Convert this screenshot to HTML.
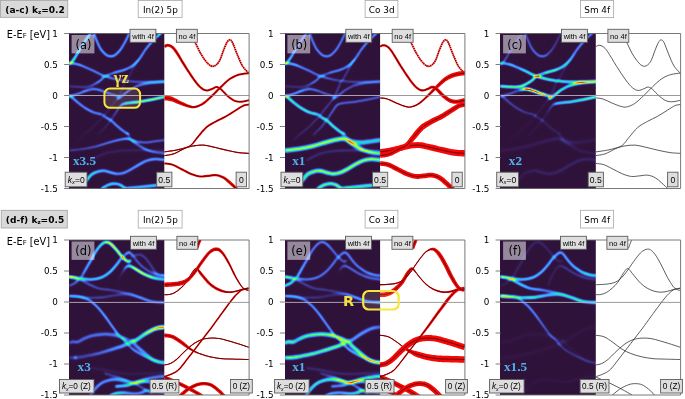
<!DOCTYPE html>
<html><head><meta charset="utf-8"><title>bands</title>
<style>
html,body{margin:0;padding:0;background:#fff;}
body{width:685px;height:399px;overflow:hidden;position:relative;}
svg{display:block;position:absolute;left:0;top:0;}
.dj{font-family:"DejaVu Sans","Liberation Sans",sans-serif;}
.djb{font-family:"DejaVu Sans","Liberation Sans",sans-serif;font-weight:bold;}
.ar{font-family:"Liberation Sans",sans-serif;}
stop{stop-color:#fff}
.sb{font-family:"Liberation Serif",serif;font-weight:bold;}
</style></head><body>
<svg width="685" height="399" viewBox="0 0 685 399">
<defs>
<clipPath id="cd00"><rect x="69.30" y="33.50" width="95.00" height="155.00"/></clipPath>
<clipPath id="cw00"><rect x="164.30" y="33.50" width="84.80" height="155.00"/></clipPath>
<clipPath id="cd01"><rect x="285.10" y="33.50" width="95.00" height="155.00"/></clipPath>
<clipPath id="cw01"><rect x="380.10" y="33.50" width="84.80" height="155.00"/></clipPath>
<clipPath id="cd02"><rect x="500.80" y="33.50" width="95.00" height="155.00"/></clipPath>
<clipPath id="cw02"><rect x="595.80" y="33.50" width="84.80" height="155.00"/></clipPath>
<clipPath id="cd10"><rect x="69.30" y="240.00" width="95.00" height="155.00"/></clipPath>
<clipPath id="cw10"><rect x="164.30" y="240.00" width="84.80" height="155.00"/></clipPath>
<clipPath id="cd11"><rect x="285.10" y="240.00" width="95.00" height="155.00"/></clipPath>
<clipPath id="cw11"><rect x="380.10" y="240.00" width="84.80" height="155.00"/></clipPath>
<clipPath id="cd12"><rect x="500.80" y="240.00" width="95.00" height="155.00"/></clipPath>
<clipPath id="cw12"><rect x="595.80" y="240.00" width="84.80" height="155.00"/></clipPath>
<filter id="b1" x="-20%" y="-20%" width="140%" height="140%"><feGaussianBlur stdDeviation="0.6"/></filter>
<filter id="b2" x="-20%" y="-20%" width="140%" height="140%"><feGaussianBlur stdDeviation="1.2"/></filter>
<filter id="b3" x="-20%" y="-20%" width="140%" height="140%"><feGaussianBlur stdDeviation="2.0"/></filter>
<filter id="turbo" filterUnits="userSpaceOnUse" x="0" y="0" width="95" height="155" color-interpolation-filters="sRGB"><feGaussianBlur in="SourceGraphic" stdDeviation="1.0"/><feComponentTransfer><feFuncR type="table" tableValues=".188 .189 .191 .195 .200 .207 .214 .220 .231 .240 .249 .257 .267 .273 .275 .278 .275 .266 .240 .207 .157 .121 .097 .099 .153 .238 .361 .490 .612 .707 .801 .884 .949 .988 .996 .972 .925 .856 .760 .630 .478 .478 .478 .478 .478 .478 .478 .478 .478 .478 .478 .478 .478 .478 .478 .478 .478 .478 .478 .478 .478 .478 .478 .478 .478"/><feFuncG type="table" tableValues=".071 .072 .076 .084 .094 .114 .135 .155 .184 .210 .248 .280 .329 .367 .408 .453 .502 .562 .613 .670 .737 .789 .841 .891 .933 .962 .986 .998 .996 .972 .926 .865 .788 .693 .582 .451 .325 .226 .141 .070 .016 .016 .016 .016 .016 .016 .016 .016 .016 .016 .016 .016 .016 .016 .016 .016 .016 .016 .016 .016 .016 .016 .016 .016 .016"/><feFuncB type="table" tableValues=".231 .235 .246 .264 .290 .337 .386 .432 .502 .549 .623 .686 .765 .820 .875 .923 .965 .996 .995 .974 .922 .863 .796 .724 .643 .554 .441 .336 .251 .210 .204 .216 .227 .211 .167 .109 .059 .027 .011 .004 .012 .012 .012 .012 .012 .012 .012 .012 .012 .012 .012 .012 .012 .012 .012 .012 .012 .012 .012 .012 .012 .012 .012 .012 .012"/><feFuncA type="linear" slope="0" intercept="1"/></feComponentTransfer></filter>
<path id="k2_M1" d="M-0.79,46.46C-0.68,46.35 -1.14,46.30 -0.10,45.77C0.94,45.24 3.60,44.54 5.45,43.27C7.30,42.00 9.15,40.50 11.00,38.14C12.84,35.78 14.69,32.25 16.54,29.13C18.39,26.01 20.24,22.65 22.09,19.42C23.94,16.18 25.79,12.37 27.64,9.71C29.49,7.05 31.57,4.74 33.19,3.47C34.81,2.20 35.96,2.01 37.35,2.08C38.73,2.15 39.89,2.61 41.51,3.88C43.13,5.15 45.21,7.63 47.06,9.71C48.91,11.79 50.99,14.56 52.60,16.37C54.22,18.17 55.61,19.63 56.77,20.53C57.92,21.43 58.73,21.84 59.54,21.78C60.35,21.71 61.27,20.39 61.62,20.11"/>
<path id="k2_M4" d="M-0.79,36.62C-0.68,36.64 -1.37,36.62 -0.10,36.75C1.17,36.89 4.52,37.10 6.83,37.45C9.15,37.79 11.46,38.49 13.77,38.83C16.08,39.18 18.39,39.53 20.70,39.53C23.02,39.53 25.33,39.37 27.64,38.83C29.95,38.30 32.26,37.61 34.57,36.34C36.89,35.07 39.43,33.10 41.51,31.21C43.59,29.31 45.44,26.93 47.06,24.97C48.67,23.00 49.83,21.08 51.22,19.42C52.60,17.75 53.99,16.18 55.38,14.98C56.77,13.78 58.38,12.39 59.54,12.21C60.70,12.02 61.16,12.67 62.31,13.87C63.47,15.07 64.86,17.45 66.47,19.42C68.09,21.38 70.17,23.93 72.02,25.66C73.87,27.39 75.72,28.59 77.57,29.82C79.42,31.04 81.27,32.20 83.12,33.01C84.97,33.82 86.47,34.21 88.67,34.67C90.86,35.14 95.02,35.60 96.29,35.78"/>
<path id="k2_M3" d="M47.06,45.77C47.52,44.61 48.79,41.15 49.83,38.83C50.87,36.52 52.14,33.87 53.30,31.90C54.45,29.94 55.73,28.09 56.77,27.05C57.81,26.01 58.61,25.73 59.54,25.66C60.46,25.59 61.16,26.05 62.31,26.63C63.47,27.21 64.86,28.13 66.47,29.13C68.09,30.12 70.17,31.55 72.02,32.59C73.87,33.63 75.72,34.56 77.57,35.37C79.42,36.18 81.27,36.87 83.12,37.45C84.97,38.03 86.47,38.44 88.67,38.83C90.86,39.23 95.02,39.64 96.29,39.81"/>
<path id="k2_M5" d="M-0.79,36.34C-0.68,36.41 -1.95,36.22 -0.10,36.75C1.75,37.29 6.94,38.26 10.30,39.53C13.65,40.80 16.77,42.88 20.00,44.38C23.24,45.89 26.25,47.61 29.71,48.54C33.18,49.48 36.65,49.33 40.81,49.99C44.97,50.64 51.21,51.84 54.68,52.48C58.15,53.13 59.30,53.18 61.61,53.87C63.92,54.56 66.47,55.83 68.55,56.64C70.63,57.45 71.78,57.91 74.10,58.72C76.41,59.53 78.72,60.87 82.42,61.50C86.12,62.12 93.98,62.31 96.29,62.47"/>
<path id="k2_F1" d="M-0.80,55.95C1.51,56.11 9.60,56.62 13.07,56.92C16.54,57.22 16.54,57.68 20.00,57.75C23.47,57.82 29.25,57.80 33.87,57.34C38.50,56.87 43.81,55.44 47.74,54.98C51.67,54.52 54.45,54.40 57.45,54.56C60.46,54.72 63.00,55.26 65.77,55.95C68.55,56.64 71.32,57.80 74.10,58.72C76.87,59.65 78.72,60.87 82.42,61.50C86.12,62.12 93.98,62.31 96.29,62.47"/>
<path id="k2_N1" d="M-0.80,55.95C0.82,56.04 6.02,56.03 8.91,56.50C11.80,56.98 14.58,58.06 16.54,58.79C18.51,59.52 18.86,59.60 20.70,60.87C22.55,62.14 25.33,64.11 27.64,66.42C29.95,68.73 32.26,71.73 34.57,74.74C36.89,77.74 39.43,81.56 41.51,84.45C43.59,87.34 45.44,90.00 47.06,92.08C48.67,94.16 49.83,95.54 51.22,96.93C52.60,98.32 53.99,98.96 55.38,100.40C56.77,101.83 57.92,103.88 59.54,105.55C61.16,107.22 63.01,108.90 65.09,110.40C67.17,111.90 69.94,113.41 72.02,114.56C74.10,115.72 75.26,116.30 77.57,117.34C79.88,118.38 82.77,119.76 85.89,120.80C89.01,121.84 94.56,123.12 96.29,123.58"/>
<path id="k2_N3" d="M-0.79,103.33C-0.10,103.05 1.86,101.88 3.37,101.66C4.87,101.45 6.49,102.50 8.22,102.06C9.96,101.62 11.69,99.98 13.77,99.01C15.85,98.04 18.39,96.93 20.70,96.24C23.02,95.54 25.10,95.20 27.64,94.85C30.18,94.50 33.19,94.16 35.96,94.16C38.73,94.16 41.74,94.43 44.28,94.85C46.83,95.27 48.91,95.89 51.22,96.65C53.53,97.42 56.30,98.64 58.15,99.43C60.00,100.21 60.93,100.35 62.31,101.37C63.70,102.39 64.86,104.04 66.47,105.55C68.09,107.05 70.40,109.02 72.02,110.40C73.64,111.79 74.33,112.37 76.18,113.87C78.03,115.37 80.81,118.08 83.12,119.42C85.43,120.76 87.86,121.41 90.05,121.91C92.25,122.42 95.25,122.38 96.29,122.47"/>
<path id="k2_O1" d="M-0.79,117.75C0.48,117.73 4.41,117.80 6.83,117.61C9.26,117.43 10.30,117.27 13.77,116.64C17.24,116.02 23.02,115.03 27.64,113.87C32.26,112.71 37.35,110.98 41.51,109.71C45.67,108.44 49.60,107.28 52.60,106.24C55.61,105.20 57.69,104.39 59.54,103.47C61.39,102.54 62.54,101.21 63.70,100.69C64.86,100.18 64.86,101.26 66.47,100.40C68.09,99.54 71.10,97.05 73.41,95.54C75.72,94.04 78.03,92.61 80.34,91.38C82.66,90.16 84.62,88.93 87.28,88.19C89.94,87.45 94.79,87.15 96.29,86.94"/>
<path id="k2_O3" d="M20.70,155.48C21.40,154.55 23.25,151.78 24.87,149.93C26.48,148.08 28.33,145.89 30.41,144.38C32.49,142.88 34.81,141.72 37.35,140.92C39.89,140.11 42.66,139.53 45.67,139.53C48.67,139.53 52.60,140.45 55.38,140.92C58.15,141.38 60.23,142.19 62.31,142.30C64.39,142.42 65.78,142.07 67.86,141.61C69.94,141.15 72.25,140.18 74.80,139.53C77.34,138.88 79.53,138.26 83.12,137.73C86.70,137.19 94.10,136.57 96.29,136.34"/>
<path id="k2_O5a" d="M34.57,133.29C36.42,133.80 42.20,135.30 45.67,136.34C49.14,137.38 52.60,138.53 55.38,139.53C58.15,140.52 60.00,141.26 62.31,142.30C64.62,143.34 66.71,144.45 69.25,145.77C71.79,147.09 75.26,148.94 77.57,150.21C79.88,151.48 82.19,152.87 83.12,153.40"/>
<path id="k2_O5b" d="M45.67,146.46C47.29,146.35 52.60,146.16 55.38,145.77C58.15,145.38 60.00,144.68 62.31,144.11C64.62,143.53 66.71,142.72 69.25,142.30C71.79,141.89 74.80,141.49 77.57,141.61C80.34,141.72 82.77,142.53 85.89,143.00C89.01,143.46 94.56,144.15 96.29,144.38"/>
<path id="k2_O5c" d="M40.12,156.17C41.28,155.71 44.51,153.98 47.06,153.40C49.60,152.82 52.37,152.64 55.38,152.70C58.38,152.77 62.31,153.81 65.09,153.81C67.86,153.81 69.94,153.21 72.02,152.70C74.10,152.20 75.72,150.95 77.57,150.76C79.42,150.58 80.00,151.27 83.12,151.60C86.24,151.92 94.10,152.52 96.29,152.70"/>
<path id="k2_O6" d="M20.70,127.74C23.02,128.09 29.95,129.01 34.57,129.82C39.20,130.63 43.82,131.90 48.44,132.59C53.07,133.29 56.53,133.87 62.31,133.98C68.09,134.10 77.45,133.52 83.12,133.29C88.78,133.06 94.10,132.71 96.29,132.59"/>
<path id="k2_M6" d="M60.93,16.64C62.31,16.30 66.94,14.56 69.25,14.56C71.56,14.56 72.95,15.14 74.80,16.64C76.65,18.15 78.49,21.04 80.34,23.58C82.19,26.12 84.27,29.94 85.89,31.90C87.51,33.87 89.36,34.79 90.05,35.37"/>
<path id="k1_1" d="M-0.79,30.71C-0.45,30.54 0.25,30.78 1.29,29.74C2.33,28.70 3.83,26.96 5.45,24.47C7.07,21.97 9.15,17.76 11.00,14.76C12.84,11.75 14.93,8.79 16.54,6.43C18.16,4.08 19.78,1.95 20.70,0.61C21.63,-0.73 21.86,-1.24 22.09,-1.61"/>
<path id="k1_2" d="M23.76,-2.16C23.94,-1.70 24.22,-1.05 24.87,0.61C25.51,2.27 26.48,5.23 27.64,7.82C28.80,10.41 30.18,13.83 31.80,16.14C33.42,18.46 35.73,20.58 37.35,21.69C38.97,22.80 40.12,22.80 41.51,22.80C42.90,22.80 44.05,22.80 45.67,21.69C47.29,20.58 49.60,18.22 51.22,16.14C52.84,14.06 54.22,11.29 55.38,9.21C56.53,7.13 57.23,5.56 58.15,3.66C59.08,1.77 60.46,-1.19 60.93,-2.16"/>
<path id="k1_3" d="M-0.79,29.74C0.71,29.90 5.33,30.01 8.22,30.71C11.11,31.40 13.77,32.74 16.54,33.90C19.32,35.05 22.09,36.32 24.87,37.64C27.64,38.96 30.41,40.65 33.19,41.80C35.96,42.96 37.81,43.65 41.51,44.58C45.21,45.50 50.76,46.73 55.38,47.35C60.00,47.97 64.62,48.21 69.25,48.32C73.87,48.44 78.61,48.21 83.12,48.04C87.63,47.88 94.10,47.47 96.29,47.35"/>
<path id="k1_4" d="M-0.79,52.74C0.48,52.81 4.41,53.04 6.83,53.16C9.26,53.27 11.46,53.50 13.77,53.43C16.08,53.37 18.39,53.43 20.70,52.74C23.02,52.05 25.79,50.31 27.64,49.27C29.49,48.23 30.41,47.63 31.80,46.50C33.19,45.37 33.65,43.74 35.96,42.50C38.27,41.25 42.43,40.07 45.67,39.03C48.91,37.99 52.60,37.29 55.38,36.25C58.15,35.21 60.00,34.41 62.31,32.79C64.62,31.17 66.94,29.32 69.25,26.55C71.56,23.77 73.87,19.26 76.18,16.14C78.49,13.02 81.04,10.13 83.12,7.82C85.20,5.51 87.09,3.85 88.67,2.27C90.24,0.70 91.90,-0.96 92.55,-1.61"/>
<path id="k1_5" d="M-0.79,62.59C-0.45,62.57 -0.22,62.80 1.29,62.45C2.79,62.10 5.68,61.34 8.22,60.51C10.76,59.68 14.00,58.27 16.54,57.46C19.09,56.65 21.63,55.93 23.48,55.65C25.33,55.38 25.79,55.40 27.64,55.79C29.49,56.19 32.26,57.23 34.57,58.01C36.89,58.80 39.43,59.81 41.51,60.51C43.59,61.20 45.55,61.62 47.06,62.17C48.56,62.73 49.95,63.56 50.52,63.84"/>
<path id="k1_6" d="M-0.79,62.31C-0.45,62.40 -0.22,61.80 1.29,62.87C2.79,63.93 5.68,66.68 8.22,68.69C10.76,70.70 13.77,73.20 16.54,74.93C19.32,76.67 22.09,78.05 24.87,79.09C27.64,80.13 31.34,80.41 33.19,81.17C35.04,81.94 34.57,82.75 35.96,83.67C37.35,84.60 39.43,85.17 41.51,86.72C43.59,88.27 46.13,91.00 48.44,92.96C50.76,94.93 53.53,97.19 55.38,98.51C57.23,99.83 58.85,100.48 59.54,100.87"/>
<path id="k1_6b" d="M55.38,98.51C56.07,98.90 58.61,99.66 59.54,100.87C60.46,102.07 60.00,104.35 60.93,105.74C61.85,107.13 63.24,107.94 65.09,109.21C66.94,110.48 69.71,112.10 72.02,113.37C74.33,114.64 76.65,115.91 78.96,116.84C81.27,117.76 83.00,118.34 85.89,118.92C88.78,119.50 94.56,120.07 96.29,120.30"/>
<path id="k1_7" d="M8.22,107.53C9.15,106.53 11.46,103.64 13.77,101.56C16.08,99.48 19.32,97.52 22.09,95.04C24.87,92.57 28.33,88.80 30.41,86.72C32.49,84.64 33.19,84.18 34.57,82.56C35.96,80.94 37.12,79.09 38.73,77.01C40.35,74.93 42.66,72.16 44.28,70.08C45.90,68.00 47.06,66.84 48.44,64.53C49.83,62.22 51.45,58.75 52.60,56.21C53.76,53.67 54.69,50.89 55.38,49.27C56.07,47.66 56.30,47.17 56.77,46.50C57.23,45.83 57.00,47.09 58.15,45.27C59.31,43.45 61.85,38.80 63.70,35.56C65.55,32.32 68.32,27.47 69.25,25.85"/>
<path id="k1_8" d="M96.29,48.58C94.10,48.70 87.63,48.70 83.12,49.27C78.61,49.85 72.95,50.89 69.25,52.05C65.55,53.20 63.24,54.82 60.93,56.21C58.61,57.60 57.00,59.10 55.38,60.37C53.76,61.64 52.49,62.91 51.22,63.84C49.95,64.76 48.33,65.57 47.75,65.92"/>
<path id="k1_9" d="M96.29,63.14C94.10,63.61 87.63,65.04 83.12,65.92C78.61,66.80 73.18,67.84 69.25,68.41C65.32,68.99 62.08,69.06 59.54,69.38C57.00,69.71 55.38,69.89 53.99,70.36C52.60,70.82 52.37,70.82 51.22,72.16C50.06,73.50 48.67,75.97 47.06,78.40C45.44,80.83 43.36,84.18 41.51,86.72C39.66,89.26 38.27,91.11 35.96,93.66C33.65,96.20 29.03,100.59 27.64,101.98"/>
<path id="k1_10" d="M-0.79,116.98C-0.45,116.95 -1.14,117.09 1.29,116.84C3.71,116.58 9.38,116.14 13.77,115.45C18.16,114.76 23.02,113.83 27.64,112.68C32.26,111.52 36.89,109.74 41.51,108.52C46.13,107.29 52.14,105.79 55.38,105.33C58.61,104.86 58.61,105.21 60.93,105.74C63.24,106.27 66.47,107.98 69.25,108.52C72.02,109.05 74.80,109.05 77.57,108.93C80.34,108.82 82.77,108.24 85.89,107.82C89.01,107.41 94.56,106.67 96.29,106.43"/>
<path id="k1_11" d="M20.70,127.24C23.02,126.08 29.95,121.92 34.57,120.30C39.20,118.69 42.66,118.11 48.44,117.53C54.22,116.95 61.27,116.84 69.25,116.84C77.22,116.84 91.79,117.41 96.29,117.53"/>
<path id="k1_12" d="M15.16,149.43C15.62,148.85 16.77,147.35 17.93,145.96C19.09,144.58 20.47,142.38 22.09,141.11C23.71,139.84 25.56,138.98 27.64,138.33C29.72,137.69 32.26,137.11 34.57,137.23C36.89,137.34 39.20,138.50 41.51,139.03C43.82,139.56 46.13,140.42 48.44,140.42C50.76,140.42 53.07,139.84 55.38,139.03C57.69,138.22 60.00,136.83 62.31,135.56C64.62,134.29 66.71,132.79 69.25,131.40C71.79,130.01 74.80,128.21 77.57,127.24C80.34,126.27 82.77,125.69 85.89,125.57C89.01,125.46 94.56,126.38 96.29,126.55"/>
<path id="k1_13" d="M31.80,155.67C32.96,154.98 36.42,152.44 38.73,151.51C41.05,150.59 43.59,150.12 45.67,150.12C47.75,150.12 49.48,150.70 51.22,151.51C52.95,152.32 55.26,154.40 56.07,154.98"/>
<path id="k1_14" d="M54.69,154.98C57.11,154.75 64.51,154.05 69.25,153.59C73.99,153.13 78.61,152.67 83.12,152.20C87.63,151.74 94.10,151.05 96.29,150.82"/>
<linearGradient id="g1" gradientUnits="userSpaceOnUse" x1="0" y1="0" x2="95" y2="0"><stop offset="0" stop-opacity=".975"/><stop offset="0" stop-opacity=".825"/><stop offset=".012" stop-opacity=".629"/><stop offset=".021" stop-opacity=".665"/><stop offset=".039" stop-opacity=".776"/><stop offset=".063" stop-opacity=".726"/><stop offset=".211" stop-opacity=".684"/></linearGradient>
<linearGradient id="g2" gradientUnits="userSpaceOnUse" x1="0" y1="0" x2="95" y2="0"><stop offset=".253" stop-opacity=".617"/><stop offset=".442" stop-opacity=".69"/><stop offset=".632" stop-opacity=".617"/></linearGradient>
<linearGradient id="g3" gradientUnits="userSpaceOnUse" x1="0" y1="0" x2="95" y2="0"><stop offset="0" stop-opacity=".862"/><stop offset="0" stop-opacity=".729"/><stop offset=".012" stop-opacity=".563"/><stop offset=".032" stop-opacity=".62"/><stop offset=".039" stop-opacity=".656"/><stop offset=".105" stop-opacity=".545"/><stop offset=".347" stop-opacity=".506"/><stop offset=".368" stop-opacity=".393"/><stop offset=".374" stop-opacity=".353"/><stop offset=".402" stop-opacity=".486"/><stop offset=".564" stop-opacity=".395"/><stop offset=".579" stop-opacity=".333"/><stop offset=".592" stop-opacity=".279"/><stop offset=".619" stop-opacity=".382"/><stop offset="1" stop-opacity=".345"/></linearGradient>
<linearGradient id="g4" gradientUnits="userSpaceOnUse" x1="0" y1="0" x2="95" y2="0"><stop offset="0" stop-opacity=".273"/><stop offset=".211" stop-opacity=".299"/><stop offset=".316" stop-opacity=".503"/><stop offset=".347" stop-opacity=".511"/><stop offset=".374" stop-opacity=".367"/><stop offset=".402" stop-opacity=".526"/><stop offset=".474" stop-opacity=".545"/><stop offset=".737" stop-opacity=".545"/><stop offset=".895" stop-opacity=".572"/><stop offset=".968" stop-opacity=".771"/></linearGradient>
<linearGradient id="g5" gradientUnits="userSpaceOnUse" x1="0" y1="0" x2="95" y2="0"><stop offset="0" stop-opacity=".575"/><stop offset="0" stop-opacity=".462"/><stop offset=".008" stop-opacity=".389"/><stop offset=".032" stop-opacity=".453"/><stop offset=".035" stop-opacity=".469"/><stop offset=".295" stop-opacity=".445"/><stop offset=".474" stop-opacity=".364"/><stop offset=".491" stop-opacity=".364"/><stop offset=".518" stop-opacity=".266"/><stop offset=".545" stop-opacity=".364"/><stop offset=".547" stop-opacity=".364"/></linearGradient>
<linearGradient id="g6" gradientUnits="userSpaceOnUse" x1="0" y1="0" x2="95" y2="0"><stop offset="0" stop-opacity=".53"/><stop offset="0" stop-opacity=".426"/><stop offset=".008" stop-opacity=".363"/><stop offset=".035" stop-opacity=".453"/><stop offset=".053" stop-opacity=".411"/><stop offset=".316" stop-opacity=".411"/><stop offset=".338" stop-opacity=".359"/><stop offset=".347" stop-opacity=".311"/><stop offset=".366" stop-opacity=".287"/><stop offset=".379" stop-opacity=".362"/><stop offset=".393" stop-opacity=".411"/><stop offset=".41" stop-opacity=".411"/><stop offset=".437" stop-opacity=".311"/><stop offset=".464" stop-opacity=".411"/><stop offset=".621" stop-opacity=".411"/></linearGradient>
<linearGradient id="g7" gradientUnits="userSpaceOnUse" x1="0" y1="0" x2="95" y2="0"><stop offset=".589" stop-opacity="0"/><stop offset=".614" stop-opacity=".279"/><stop offset=".641" stop-opacity=".293"/><stop offset=".642" stop-opacity=".299"/><stop offset=".669" stop-opacity=".449"/><stop offset=".695" stop-opacity=".484"/><stop offset="1" stop-opacity=".409"/></linearGradient>
<linearGradient id="g8" gradientUnits="userSpaceOnUse" x1="0" y1="0" x2="95" y2="0"><stop offset=".084" stop-opacity=".175"/><stop offset=".147" stop-opacity=".215"/><stop offset=".316" stop-opacity=".304"/><stop offset=".338" stop-opacity=".309"/><stop offset=".366" stop-opacity=".238"/><stop offset=".393" stop-opacity=".322"/><stop offset=".491" stop-opacity=".343"/><stop offset=".518" stop-opacity=".255"/><stop offset=".526" stop-opacity=".288"/><stop offset=".545" stop-opacity=".351"/><stop offset=".564" stop-opacity=".351"/><stop offset=".592" stop-opacity=".254"/><stop offset=".6" stop-opacity=".287"/><stop offset=".619" stop-opacity=".344"/><stop offset=".737" stop-opacity=".304"/></linearGradient>
<linearGradient id="g9" gradientUnits="userSpaceOnUse" x1="0" y1="0" x2="95" y2="0"><stop offset=".474" stop-opacity=".386"/><stop offset=".579" stop-opacity=".456"/><stop offset=".737" stop-opacity=".456"/><stop offset="1" stop-opacity=".472"/></linearGradient>
<linearGradient id="g10" gradientUnits="userSpaceOnUse" x1="0" y1="0" x2="95" y2="0"><stop offset=".295" stop-opacity=".122"/><stop offset=".41" stop-opacity=".187"/><stop offset=".421" stop-opacity=".175"/><stop offset=".437" stop-opacity=".176"/><stop offset=".464" stop-opacity=".288"/><stop offset=".526" stop-opacity=".386"/><stop offset=".589" stop-opacity=".752"/><stop offset=".684" stop-opacity=".862"/><stop offset=".842" stop-opacity=".904"/><stop offset="1" stop-opacity=".862"/></linearGradient>
<linearGradient id="g11" gradientUnits="userSpaceOnUse" x1="0" y1="0" x2="95" y2="0"><stop offset="0" stop-opacity=".258"/><stop offset=".211" stop-opacity=".346"/><stop offset=".474" stop-opacity=".462"/><stop offset=".614" stop-opacity=".555"/><stop offset=".632" stop-opacity=".47"/><stop offset=".641" stop-opacity=".395"/><stop offset=".669" stop-opacity=".492"/><stop offset=".695" stop-opacity=".432"/><stop offset="1" stop-opacity=".4"/></linearGradient>
<linearGradient id="g12" gradientUnits="userSpaceOnUse" x1="0" y1="0" x2="95" y2="0"><stop offset="0" stop-opacity=".106"/><stop offset="1" stop-opacity=".106"/></linearGradient>
<linearGradient id="g13" gradientUnits="userSpaceOnUse" x1="0" y1="0" x2="95" y2="0"><stop offset=".158" stop-opacity=".467"/><stop offset=".2" stop-opacity=".552"/><stop offset=".263" stop-opacity=".482"/><stop offset=".368" stop-opacity=".4"/><stop offset=".526" stop-opacity=".381"/><stop offset="1" stop-opacity=".381"/></linearGradient>
<linearGradient id="g14" gradientUnits="userSpaceOnUse" x1="0" y1="0" x2="95" y2="0"><stop offset="0" stop-opacity=".504"/><stop offset=".561" stop-opacity=".504"/><stop offset=".589" stop-opacity=".357"/><stop offset=".616" stop-opacity=".504"/><stop offset="1" stop-opacity=".504"/></linearGradient>
<linearGradient id="g15" gradientUnits="userSpaceOnUse" x1="0" y1="0" x2="95" y2="0"><stop offset="0" stop-opacity=".467"/><stop offset=".561" stop-opacity=".467"/><stop offset=".589" stop-opacity=".33"/><stop offset=".616" stop-opacity=".467"/><stop offset="1" stop-opacity=".467"/></linearGradient>
<linearGradient id="g16" gradientUnits="userSpaceOnUse" x1="0" y1="0" x2="95" y2="0"><stop offset="0" stop-opacity=".974"/><stop offset="0" stop-opacity=".824"/><stop offset=".012" stop-opacity=".627"/><stop offset=".021" stop-opacity=".663"/><stop offset=".039" stop-opacity=".743"/><stop offset=".063" stop-opacity=".644"/><stop offset=".126" stop-opacity=".557"/><stop offset=".232" stop-opacity=".509"/></linearGradient>
<linearGradient id="g17" gradientUnits="userSpaceOnUse" x1="0" y1="0" x2="95" y2="0"><stop offset=".253" stop-opacity=".535"/><stop offset=".421" stop-opacity=".617"/><stop offset=".632" stop-opacity=".535"/></linearGradient>
<linearGradient id="g18" gradientUnits="userSpaceOnUse" x1="0" y1="0" x2="95" y2="0"><stop offset="0" stop-opacity=".904"/><stop offset="0" stop-opacity=".765"/><stop offset=".012" stop-opacity=".595"/><stop offset=".032" stop-opacity=".67"/><stop offset=".039" stop-opacity=".71"/><stop offset=".105" stop-opacity=".597"/><stop offset=".316" stop-opacity=".456"/><stop offset=".347" stop-opacity=".442"/><stop offset=".374" stop-opacity=".304"/><stop offset=".402" stop-opacity=".417"/><stop offset=".564" stop-opacity=".331"/><stop offset=".579" stop-opacity=".276"/><stop offset=".592" stop-opacity=".228"/><stop offset=".619" stop-opacity=".32"/><stop offset="1" stop-opacity=".299"/></linearGradient>
<linearGradient id="g19" gradientUnits="userSpaceOnUse" x1="0" y1="0" x2="95" y2="0"><stop offset="0" stop-opacity=".244"/><stop offset=".211" stop-opacity=".244"/><stop offset=".295" stop-opacity=".422"/><stop offset=".347" stop-opacity=".442"/><stop offset=".374" stop-opacity=".32"/><stop offset=".402" stop-opacity=".463"/><stop offset=".474" stop-opacity=".488"/><stop offset=".737" stop-opacity=".517"/><stop offset="1" stop-opacity=".517"/></linearGradient>
<linearGradient id="g20" gradientUnits="userSpaceOnUse" x1="0" y1="0" x2="95" y2="0"><stop offset="0" stop-opacity=".704"/><stop offset="0" stop-opacity=".567"/><stop offset=".008" stop-opacity=".471"/><stop offset=".032" stop-opacity=".516"/><stop offset=".035" stop-opacity=".534"/><stop offset=".211" stop-opacity=".469"/><stop offset=".295" stop-opacity=".393"/><stop offset=".474" stop-opacity=".315"/><stop offset=".491" stop-opacity=".315"/><stop offset=".518" stop-opacity=".223"/><stop offset=".545" stop-opacity=".315"/><stop offset=".579" stop-opacity=".315"/></linearGradient>
<linearGradient id="g21" gradientUnits="userSpaceOnUse" x1="0" y1="0" x2="95" y2="0"><stop offset="0" stop-opacity=".685"/><stop offset="0" stop-opacity=".551"/><stop offset=".008" stop-opacity=".477"/><stop offset=".035" stop-opacity=".637"/><stop offset=".053" stop-opacity=".612"/><stop offset=".316" stop-opacity=".627"/><stop offset=".338" stop-opacity=".548"/><stop offset=".347" stop-opacity=".473"/><stop offset=".366" stop-opacity=".412"/><stop offset=".379" stop-opacity=".51"/><stop offset=".393" stop-opacity=".588"/><stop offset=".41" stop-opacity=".596"/><stop offset=".437" stop-opacity=".462"/><stop offset=".464" stop-opacity=".623"/><stop offset=".474" stop-opacity=".627"/><stop offset=".621" stop-opacity=".627"/></linearGradient>
<linearGradient id="g22" gradientUnits="userSpaceOnUse" x1="0" y1="0" x2="95" y2="0"><stop offset=".589" stop-opacity="0"/><stop offset=".614" stop-opacity=".091"/><stop offset=".632" stop-opacity=".101"/><stop offset=".641" stop-opacity=".175"/><stop offset=".663" stop-opacity=".361"/><stop offset=".669" stop-opacity=".395"/><stop offset=".695" stop-opacity=".464"/><stop offset=".8" stop-opacity=".489"/><stop offset=".808" stop-opacity=".502"/><stop offset=".832" stop-opacity=".456"/><stop offset=".836" stop-opacity=".434"/><stop offset=".863" stop-opacity=".482"/><stop offset=".874" stop-opacity=".464"/><stop offset="1" stop-opacity=".437"/></linearGradient>
<linearGradient id="g23" gradientUnits="userSpaceOnUse" x1="0" y1="0" x2="95" y2="0"><stop offset=".084" stop-opacity=".248"/><stop offset=".147" stop-opacity=".351"/><stop offset=".316" stop-opacity=".496"/><stop offset=".338" stop-opacity=".499"/><stop offset=".366" stop-opacity=".375"/><stop offset=".393" stop-opacity=".507"/><stop offset=".491" stop-opacity=".521"/><stop offset=".518" stop-opacity=".371"/><stop offset=".526" stop-opacity=".424"/><stop offset=".545" stop-opacity=".51"/><stop offset=".564" stop-opacity=".495"/><stop offset=".592" stop-opacity=".333"/><stop offset=".6" stop-opacity=".375"/><stop offset=".619" stop-opacity=".464"/><stop offset=".737" stop-opacity=".464"/></linearGradient>
<linearGradient id="g24" gradientUnits="userSpaceOnUse" x1="0" y1="0" x2="95" y2="0"><stop offset=".474" stop-opacity=".345"/><stop offset=".579" stop-opacity=".386"/><stop offset=".737" stop-opacity=".366"/><stop offset="1" stop-opacity=".323"/></linearGradient>
<linearGradient id="g25" gradientUnits="userSpaceOnUse" x1="0" y1="0" x2="95" y2="0"><stop offset=".295" stop-opacity=".211"/><stop offset=".41" stop-opacity=".314"/><stop offset=".421" stop-opacity=".292"/><stop offset=".437" stop-opacity=".257"/><stop offset=".464" stop-opacity=".367"/><stop offset=".526" stop-opacity=".422"/><stop offset=".632" stop-opacity=".422"/><stop offset="1" stop-opacity=".386"/></linearGradient>
<linearGradient id="g26" gradientUnits="userSpaceOnUse" x1="0" y1="0" x2="95" y2="0"><stop offset="0" stop-opacity=".461"/><stop offset=".316" stop-opacity=".461"/><stop offset=".579" stop-opacity=".461"/><stop offset=".614" stop-opacity=".476"/><stop offset=".632" stop-opacity=".41"/><stop offset=".641" stop-opacity=".346"/><stop offset=".669" stop-opacity=".389"/><stop offset=".674" stop-opacity=".375"/><stop offset="1" stop-opacity=".357"/></linearGradient>
<linearGradient id="g27" gradientUnits="userSpaceOnUse" x1="0" y1="0" x2="95" y2="0"><stop offset="0" stop-opacity=".13"/><stop offset=".808" stop-opacity=".146"/><stop offset=".836" stop-opacity=".12"/><stop offset=".863" stop-opacity=".147"/><stop offset="1" stop-opacity=".15"/></linearGradient>
<linearGradient id="g28" gradientUnits="userSpaceOnUse" x1="0" y1="0" x2="95" y2="0"><stop offset=".158" stop-opacity=".372"/><stop offset=".211" stop-opacity=".44"/><stop offset=".421" stop-opacity=".48"/><stop offset="1" stop-opacity=".48"/></linearGradient>
<linearGradient id="g29" gradientUnits="userSpaceOnUse" x1="0" y1="0" x2="95" y2="0"><stop offset="0" stop-opacity=".487"/><stop offset=".561" stop-opacity=".487"/><stop offset=".589" stop-opacity=".344"/><stop offset=".616" stop-opacity=".487"/><stop offset="1" stop-opacity=".487"/></linearGradient>
<linearGradient id="g30" gradientUnits="userSpaceOnUse" x1="0" y1="0" x2="95" y2="0"><stop offset="0" stop-opacity=".459"/><stop offset=".561" stop-opacity=".459"/><stop offset=".589" stop-opacity=".325"/><stop offset=".616" stop-opacity=".459"/><stop offset="1" stop-opacity=".459"/></linearGradient>
<linearGradient id="g31" gradientUnits="userSpaceOnUse" x1="0" y1="0" x2="95" y2="0"><stop offset="0" stop-opacity=".741"/><stop offset="0" stop-opacity=".628"/><stop offset=".012" stop-opacity=".472"/><stop offset=".032" stop-opacity=".477"/><stop offset=".039" stop-opacity=".503"/><stop offset=".105" stop-opacity=".392"/><stop offset=".232" stop-opacity=".297"/></linearGradient>
<linearGradient id="g32" gradientUnits="userSpaceOnUse" x1="0" y1="0" x2="95" y2="0"><stop offset=".253" stop-opacity=".39"/><stop offset=".316" stop-opacity=".478"/><stop offset=".442" stop-opacity=".552"/><stop offset=".526" stop-opacity=".39"/><stop offset=".632" stop-opacity=".276"/></linearGradient>
<linearGradient id="g33" gradientUnits="userSpaceOnUse" x1="0" y1="0" x2="95" y2="0"><stop offset="0" stop-opacity=".645"/><stop offset="0" stop-opacity=".546"/><stop offset=".012" stop-opacity=".458"/><stop offset=".039" stop-opacity=".645"/><stop offset=".189" stop-opacity=".645"/><stop offset=".232" stop-opacity=".79"/><stop offset=".347" stop-opacity=".818"/><stop offset=".347" stop-opacity=".816"/><stop offset=".374" stop-opacity=".599"/><stop offset=".389" stop-opacity=".759"/><stop offset=".402" stop-opacity=".849"/><stop offset=".432" stop-opacity=".818"/><stop offset=".564" stop-opacity=".79"/><stop offset=".592" stop-opacity=".64"/><stop offset=".619" stop-opacity=".778"/><stop offset=".653" stop-opacity=".771"/><stop offset=".842" stop-opacity=".771"/><stop offset=".926" stop-opacity=".645"/><stop offset="1" stop-opacity=".645"/></linearGradient>
<linearGradient id="g34" gradientUnits="userSpaceOnUse" x1="0" y1="0" x2="95" y2="0"><stop offset="0" stop-opacity=".862"/><stop offset=".211" stop-opacity=".862"/><stop offset=".295" stop-opacity=".79"/><stop offset=".347" stop-opacity=".836"/><stop offset=".358" stop-opacity=".757"/><stop offset=".374" stop-opacity=".604"/><stop offset=".389" stop-opacity=".759"/><stop offset=".402" stop-opacity=".852"/><stop offset=".442" stop-opacity=".818"/><stop offset=".589" stop-opacity=".79"/><stop offset=".695" stop-opacity=".668"/><stop offset=".789" stop-opacity=".545"/><stop offset=".968" stop-opacity=".472"/></linearGradient>
<linearGradient id="g35" gradientUnits="userSpaceOnUse" x1="0" y1="0" x2="95" y2="0"><stop offset="0" stop-opacity=".317"/><stop offset="0" stop-opacity=".255"/><stop offset=".008" stop-opacity=".225"/><stop offset=".035" stop-opacity=".317"/><stop offset=".189" stop-opacity=".317"/><stop offset=".221" stop-opacity=".777"/><stop offset=".253" stop-opacity=".977"/><stop offset=".358" stop-opacity=".951"/><stop offset=".442" stop-opacity=".839"/><stop offset=".495" stop-opacity=".709"/><stop offset=".537" stop-opacity=".593"/></linearGradient>
<linearGradient id="g36" gradientUnits="userSpaceOnUse" x1="0" y1="0" x2="95" y2="0"><stop offset="0" stop-opacity=".274"/><stop offset="0" stop-opacity=".22"/><stop offset=".008" stop-opacity=".193"/><stop offset=".035" stop-opacity=".268"/><stop offset=".211" stop-opacity=".237"/><stop offset=".347" stop-opacity=".217"/><stop offset=".379" stop-opacity=".153"/><stop offset=".632" stop-opacity=".137"/></linearGradient>
<linearGradient id="g37" gradientUnits="userSpaceOnUse" x1="0" y1="0" x2="95" y2="0"><stop offset=".589" stop-opacity="0"/><stop offset=".653" stop-opacity=".085"/><stop offset="1" stop-opacity=".085"/></linearGradient>
<linearGradient id="g38" gradientUnits="userSpaceOnUse" x1="0" y1="0" x2="95" y2="0"><stop offset=".084" stop-opacity=".124"/><stop offset=".316" stop-opacity=".192"/><stop offset=".526" stop-opacity=".304"/><stop offset=".564" stop-opacity=".304"/><stop offset=".592" stop-opacity=".248"/><stop offset=".6" stop-opacity=".266"/><stop offset=".619" stop-opacity=".296"/><stop offset=".737" stop-opacity=".248"/></linearGradient>
<linearGradient id="g39" gradientUnits="userSpaceOnUse" x1="0" y1="0" x2="95" y2="0"><stop offset=".505" stop-opacity=".668"/><stop offset=".579" stop-opacity=".79"/><stop offset=".737" stop-opacity=".771"/><stop offset=".842" stop-opacity=".771"/><stop offset=".926" stop-opacity=".645"/><stop offset="1" stop-opacity=".645"/></linearGradient>
<linearGradient id="g40" gradientUnits="userSpaceOnUse" x1="0" y1="0" x2="95" y2="0"><stop offset=".295" stop-opacity=".094"/><stop offset=".474" stop-opacity=".149"/><stop offset=".547" stop-opacity=".345"/><stop offset=".579" stop-opacity=".668"/><stop offset=".632" stop-opacity=".721"/><stop offset=".737" stop-opacity=".752"/><stop offset=".874" stop-opacity=".818"/><stop offset="1" stop-opacity=".862"/></linearGradient>
<linearGradient id="g41" gradientUnits="userSpaceOnUse" x1="0" y1="0" x2="95" y2="0"><stop offset="0" stop-opacity=".071"/><stop offset=".632" stop-opacity=".092"/><stop offset="1" stop-opacity=".071"/></linearGradient>
<linearGradient id="g42" gradientUnits="userSpaceOnUse" x1="0" y1="0" x2="95" y2="0"><stop offset=".158" stop-opacity=".068"/><stop offset=".421" stop-opacity=".107"/><stop offset="1" stop-opacity=".107"/></linearGradient>
<linearGradient id="g43" gradientUnits="userSpaceOnUse" x1="0" y1="0" x2="95" y2="0"><stop offset="0" stop-opacity=".306"/><stop offset=".077" stop-opacity=".342"/><stop offset=".087" stop-opacity=".313"/><stop offset=".105" stop-opacity=".207"/><stop offset=".115" stop-opacity=".211"/><stop offset=".126" stop-opacity=".291"/><stop offset=".132" stop-opacity=".336"/><stop offset=".142" stop-opacity=".386"/><stop offset=".232" stop-opacity=".503"/><stop offset=".337" stop-opacity=".627"/><stop offset=".4" stop-opacity=".737"/><stop offset=".484" stop-opacity=".762"/><stop offset=".533" stop-opacity=".751"/><stop offset=".537" stop-opacity=".73"/><stop offset=".561" stop-opacity=".698"/><stop offset=".568" stop-opacity=".799"/><stop offset=".588" stop-opacity=".805"/><stop offset=".595" stop-opacity=".75"/><stop offset=".653" stop-opacity=".627"/></linearGradient>
<linearGradient id="g44" gradientUnits="userSpaceOnUse" x1="0" y1="0" x2="95" y2="0"><stop offset="0" stop-opacity=".627"/><stop offset=".084" stop-opacity=".53"/><stop offset=".087" stop-opacity=".518"/><stop offset=".105" stop-opacity=".356"/><stop offset=".115" stop-opacity=".325"/><stop offset=".142" stop-opacity=".519"/><stop offset=".147" stop-opacity=".53"/><stop offset=".474" stop-opacity=".53"/><stop offset=".533" stop-opacity=".487"/><stop offset=".537" stop-opacity=".471"/><stop offset=".561" stop-opacity=".263"/><stop offset=".568" stop-opacity=".232"/><stop offset=".588" stop-opacity=".38"/><stop offset=".6" stop-opacity=".433"/><stop offset=".632" stop-opacity=".433"/><stop offset=".644" stop-opacity=".406"/><stop offset=".672" stop-opacity=".249"/><stop offset=".684" stop-opacity=".265"/><stop offset=".699" stop-opacity=".304"/><stop offset=".895" stop-opacity=".274"/><stop offset=".912" stop-opacity=".334"/><stop offset=".939" stop-opacity=".314"/><stop offset=".947" stop-opacity=".364"/><stop offset=".966" stop-opacity=".471"/><stop offset="1" stop-opacity=".53"/></linearGradient>
<linearGradient id="g45" gradientUnits="userSpaceOnUse" x1="0" y1="0" x2="95" y2="0"><stop offset=".495" stop-opacity="0"/><stop offset=".558" stop-opacity=".168"/><stop offset=".6" stop-opacity=".433"/><stop offset=".632" stop-opacity=".597"/><stop offset=".674" stop-opacity=".737"/><stop offset=".758" stop-opacity=".781"/><stop offset=".863" stop-opacity=".685"/><stop offset=".947" stop-opacity=".573"/><stop offset="1" stop-opacity=".53"/></linearGradient>
<linearGradient id="g46" gradientUnits="userSpaceOnUse" x1="0" y1="0" x2="95" y2="0"><stop offset="0" stop-opacity=".452"/><stop offset=".053" stop-opacity=".313"/><stop offset=".077" stop-opacity=".308"/><stop offset=".105" stop-opacity=".214"/><stop offset=".132" stop-opacity=".297"/><stop offset=".316" stop-opacity=".256"/><stop offset="1" stop-opacity=".202"/></linearGradient>
<linearGradient id="g47" gradientUnits="userSpaceOnUse" x1="0" y1="0" x2="95" y2="0"><stop offset="0" stop-opacity=".214"/><stop offset=".158" stop-opacity=".198"/><stop offset=".316" stop-opacity=".198"/><stop offset="1" stop-opacity=".181"/></linearGradient>
<linearGradient id="g48" gradientUnits="userSpaceOnUse" x1="0" y1="0" x2="95" y2="0"><stop offset="0" stop-opacity=".366"/><stop offset=".158" stop-opacity=".484"/><stop offset=".263" stop-opacity=".579"/><stop offset=".508" stop-opacity=".601"/><stop offset=".535" stop-opacity=".43"/><stop offset=".562" stop-opacity=".605"/><stop offset=".579" stop-opacity=".607"/><stop offset=".586" stop-opacity=".583"/><stop offset=".613" stop-opacity=".346"/><stop offset=".621" stop-opacity=".362"/><stop offset=".641" stop-opacity=".482"/><stop offset=".674" stop-opacity=".533"/><stop offset="1" stop-opacity=".366"/></linearGradient>
<linearGradient id="g49" gradientUnits="userSpaceOnUse" x1="0" y1="0" x2="95" y2="0"><stop offset="0" stop-opacity=".219"/><stop offset=".158" stop-opacity=".249"/><stop offset=".474" stop-opacity=".259"/><stop offset=".508" stop-opacity=".254"/><stop offset=".535" stop-opacity=".178"/><stop offset=".562" stop-opacity=".246"/><stop offset=".611" stop-opacity=".239"/><stop offset=".63" stop-opacity=".184"/><stop offset=".642" stop-opacity=".124"/><stop offset=".657" stop-opacity=".158"/><stop offset=".674" stop-opacity=".242"/><stop offset=".685" stop-opacity=".275"/><stop offset=".737" stop-opacity=".309"/><stop offset="1" stop-opacity=".309"/></linearGradient>
<linearGradient id="g50" gradientUnits="userSpaceOnUse" x1="0" y1="0" x2="95" y2="0"><stop offset=".042" stop-opacity=".155"/><stop offset=".063" stop-opacity=".379"/><stop offset=".084" stop-opacity=".169"/><stop offset=".211" stop-opacity=".195"/><stop offset=".368" stop-opacity=".259"/><stop offset=".526" stop-opacity=".309"/><stop offset=".586" stop-opacity=".344"/><stop offset=".589" stop-opacity=".335"/><stop offset=".613" stop-opacity=".266"/><stop offset=".621" stop-opacity=".306"/><stop offset=".63" stop-opacity=".353"/><stop offset=".641" stop-opacity=".37"/><stop offset=".657" stop-opacity=".321"/><stop offset=".663" stop-opacity=".353"/><stop offset=".685" stop-opacity=".444"/><stop offset=".695" stop-opacity=".448"/><stop offset=".758" stop-opacity=".426"/><stop offset=".842" stop-opacity=".512"/><stop offset=".926" stop-opacity=".586"/><stop offset="1" stop-opacity=".618"/></linearGradient>
<linearGradient id="g51" gradientUnits="userSpaceOnUse" x1="0" y1="0" x2="95" y2="0"><stop offset=".211" stop-opacity=".29"/><stop offset=".316" stop-opacity=".335"/><stop offset=".579" stop-opacity=".335"/><stop offset=".629" stop-opacity=".273"/><stop offset=".653" stop-opacity=".178"/><stop offset=".656" stop-opacity=".171"/><stop offset=".683" stop-opacity=".269"/><stop offset=".737" stop-opacity=".318"/><stop offset=".895" stop-opacity=".29"/></linearGradient>
<linearGradient id="g52" gradientUnits="userSpaceOnUse" x1="0" y1="0" x2="95" y2="0"><stop offset=".368" stop-opacity=".283"/><stop offset=".629" stop-opacity=".305"/><stop offset=".654" stop-opacity=".227"/><stop offset=".656" stop-opacity=".214"/><stop offset=".681" stop-opacity=".228"/><stop offset=".683" stop-opacity=".24"/><stop offset=".708" stop-opacity=".312"/><stop offset=".799" stop-opacity=".319"/><stop offset=".827" stop-opacity=".232"/><stop offset=".854" stop-opacity=".323"/><stop offset=".895" stop-opacity=".327"/></linearGradient>
<linearGradient id="g53" gradientUnits="userSpaceOnUse" x1="0" y1="0" x2="95" y2="0"><stop offset=".474" stop-opacity=".405"/><stop offset=".579" stop-opacity=".486"/><stop offset=".654" stop-opacity=".467"/><stop offset=".681" stop-opacity=".345"/><stop offset=".708" stop-opacity=".452"/><stop offset=".737" stop-opacity=".444"/><stop offset=".842" stop-opacity=".362"/><stop offset="1" stop-opacity=".344"/></linearGradient>
<linearGradient id="g54" gradientUnits="userSpaceOnUse" x1="0" y1="0" x2="95" y2="0"><stop offset=".421" stop-opacity=".473"/><stop offset=".526" stop-opacity=".443"/><stop offset=".632" stop-opacity=".318"/><stop offset=".799" stop-opacity=".318"/><stop offset=".827" stop-opacity=".229"/><stop offset=".854" stop-opacity=".318"/><stop offset="1" stop-opacity=".318"/></linearGradient>
<linearGradient id="g55" gradientUnits="userSpaceOnUse" x1="0" y1="0" x2="95" y2="0"><stop offset="0" stop-opacity=".092"/><stop offset="1" stop-opacity=".092"/></linearGradient>
<linearGradient id="g56" gradientUnits="userSpaceOnUse" x1="0" y1="0" x2="95" y2="0"><stop offset=".632" stop-opacity=".14"/><stop offset=".644" stop-opacity=".15"/><stop offset=".672" stop-opacity=".124"/><stop offset=".699" stop-opacity=".188"/><stop offset=".716" stop-opacity=".198"/><stop offset=".895" stop-opacity=".181"/><stop offset=".912" stop-opacity=".169"/><stop offset=".939" stop-opacity=".112"/><stop offset=".947" stop-opacity=".118"/><stop offset=".966" stop-opacity=".14"/></linearGradient>
<linearGradient id="g57" gradientUnits="userSpaceOnUse" x1="0" y1="0" x2="95" y2="0"><stop offset="0" stop-opacity=".627"/><stop offset=".053" stop-opacity=".597"/><stop offset=".077" stop-opacity=".567"/><stop offset=".087" stop-opacity=".506"/><stop offset=".105" stop-opacity=".329"/><stop offset=".105" stop-opacity=".329"/><stop offset=".115" stop-opacity=".317"/><stop offset=".132" stop-opacity=".453"/><stop offset=".142" stop-opacity=".488"/><stop offset=".168" stop-opacity=".454"/><stop offset=".263" stop-opacity=".399"/><stop offset=".389" stop-opacity=".387"/><stop offset=".526" stop-opacity=".335"/><stop offset=".533" stop-opacity=".334"/><stop offset=".561" stop-opacity=".232"/><stop offset=".588" stop-opacity=".321"/><stop offset=".653" stop-opacity=".306"/></linearGradient>
<linearGradient id="g58" gradientUnits="userSpaceOnUse" x1="0" y1="0" x2="95" y2="0"><stop offset="0" stop-opacity=".53"/><stop offset=".063" stop-opacity=".433"/><stop offset=".087" stop-opacity=".38"/><stop offset=".105" stop-opacity=".277"/><stop offset=".115" stop-opacity=".249"/><stop offset=".142" stop-opacity=".37"/><stop offset=".147" stop-opacity=".375"/><stop offset=".474" stop-opacity=".362"/><stop offset=".533" stop-opacity=".372"/><stop offset=".561" stop-opacity=".267"/><stop offset=".588" stop-opacity=".381"/><stop offset=".632" stop-opacity=".387"/><stop offset=".737" stop-opacity=".375"/><stop offset="1" stop-opacity=".411"/></linearGradient>
<linearGradient id="g59" gradientUnits="userSpaceOnUse" x1="0" y1="0" x2="95" y2="0"><stop offset=".547" stop-opacity="0"/><stop offset=".589" stop-opacity=".237"/><stop offset=".632" stop-opacity=".335"/><stop offset=".737" stop-opacity=".321"/><stop offset="1" stop-opacity=".335"/></linearGradient>
<linearGradient id="g60" gradientUnits="userSpaceOnUse" x1="0" y1="0" x2="95" y2="0"><stop offset="0" stop-opacity=".313"/><stop offset=".077" stop-opacity=".272"/><stop offset=".105" stop-opacity=".19"/><stop offset=".105" stop-opacity=".192"/><stop offset=".132" stop-opacity=".252"/><stop offset=".316" stop-opacity=".221"/><stop offset=".632" stop-opacity=".221"/><stop offset=".842" stop-opacity=".313"/><stop offset="1" stop-opacity=".404"/></linearGradient>
<linearGradient id="g61" gradientUnits="userSpaceOnUse" x1="0" y1="0" x2="95" y2="0"><stop offset="0" stop-opacity=".198"/><stop offset=".158" stop-opacity=".181"/><stop offset=".316" stop-opacity=".162"/><stop offset="1" stop-opacity=".162"/></linearGradient>
<linearGradient id="g62" gradientUnits="userSpaceOnUse" x1="0" y1="0" x2="95" y2="0"><stop offset="0" stop-opacity=".366"/><stop offset=".158" stop-opacity=".448"/><stop offset=".263" stop-opacity=".549"/><stop offset=".495" stop-opacity=".579"/><stop offset=".508" stop-opacity=".523"/><stop offset=".535" stop-opacity=".289"/><stop offset=".537" stop-opacity=".287"/><stop offset=".562" stop-opacity=".506"/><stop offset=".579" stop-opacity=".579"/><stop offset=".586" stop-opacity=".579"/><stop offset=".611" stop-opacity=".435"/><stop offset=".613" stop-opacity=".416"/><stop offset=".641" stop-opacity=".59"/><stop offset=".684" stop-opacity=".607"/><stop offset=".842" stop-opacity=".501"/><stop offset="1" stop-opacity=".409"/></linearGradient>
<linearGradient id="g63" gradientUnits="userSpaceOnUse" x1="0" y1="0" x2="95" y2="0"><stop offset="0" stop-opacity=".448"/><stop offset=".084" stop-opacity=".448"/><stop offset=".126" stop-opacity=".379"/><stop offset=".168" stop-opacity=".437"/><stop offset=".474" stop-opacity=".464"/><stop offset=".508" stop-opacity=".477"/><stop offset=".535" stop-opacity=".374"/><stop offset=".537" stop-opacity=".383"/><stop offset=".562" stop-opacity=".474"/><stop offset=".579" stop-opacity=".464"/><stop offset=".621" stop-opacity=".464"/><stop offset=".63" stop-opacity=".441"/><stop offset=".653" stop-opacity=".291"/><stop offset=".657" stop-opacity=".277"/><stop offset=".685" stop-opacity=".445"/><stop offset=".695" stop-opacity=".464"/><stop offset="1" stop-opacity=".464"/></linearGradient>
<linearGradient id="g64" gradientUnits="userSpaceOnUse" x1="0" y1="0" x2="95" y2="0"><stop offset="0" stop-opacity=".448"/><stop offset=".053" stop-opacity=".489"/><stop offset=".084" stop-opacity=".448"/><stop offset=".579" stop-opacity=".464"/><stop offset=".586" stop-opacity=".459"/><stop offset=".613" stop-opacity=".317"/><stop offset=".621" stop-opacity=".353"/><stop offset=".63" stop-opacity=".364"/><stop offset=".641" stop-opacity=".326"/><stop offset=".653" stop-opacity=".238"/><stop offset=".657" stop-opacity=".22"/><stop offset=".685" stop-opacity=".309"/><stop offset=".695" stop-opacity=".309"/><stop offset=".926" stop-opacity=".293"/><stop offset="1" stop-opacity=".239"/></linearGradient>
<linearGradient id="g65" gradientUnits="userSpaceOnUse" x1="0" y1="0" x2="95" y2="0"><stop offset=".211" stop-opacity=".41"/><stop offset=".316" stop-opacity=".473"/><stop offset=".629" stop-opacity=".473"/><stop offset=".632" stop-opacity=".461"/><stop offset=".656" stop-opacity=".364"/><stop offset=".683" stop-opacity=".508"/><stop offset=".716" stop-opacity=".529"/><stop offset=".789" stop-opacity=".473"/><stop offset="1" stop-opacity=".473"/></linearGradient>
<linearGradient id="g66" gradientUnits="userSpaceOnUse" x1="0" y1="0" x2="95" y2="0"><stop offset=".368" stop-opacity=".231"/><stop offset=".526" stop-opacity=".4"/><stop offset=".629" stop-opacity=".446"/><stop offset=".632" stop-opacity=".436"/><stop offset=".654" stop-opacity=".305"/><stop offset=".656" stop-opacity=".285"/><stop offset=".681" stop-opacity=".233"/><stop offset=".683" stop-opacity=".241"/><stop offset=".695" stop-opacity=".248"/><stop offset=".708" stop-opacity=".326"/><stop offset=".758" stop-opacity=".447"/><stop offset=".799" stop-opacity=".447"/><stop offset=".827" stop-opacity=".323"/><stop offset=".854" stop-opacity=".447"/><stop offset=".895" stop-opacity=".447"/></linearGradient>
<linearGradient id="g67" gradientUnits="userSpaceOnUse" x1="0" y1="0" x2="95" y2="0"><stop offset=".474" stop-opacity=".314"/><stop offset=".632" stop-opacity=".38"/><stop offset=".654" stop-opacity=".38"/><stop offset=".681" stop-opacity=".277"/><stop offset=".708" stop-opacity=".38"/><stop offset="1" stop-opacity=".38"/></linearGradient>
<linearGradient id="g68" gradientUnits="userSpaceOnUse" x1="0" y1="0" x2="95" y2="0"><stop offset=".421" stop-opacity=".41"/><stop offset=".579" stop-opacity=".335"/><stop offset=".737" stop-opacity=".443"/><stop offset=".799" stop-opacity=".443"/><stop offset=".827" stop-opacity=".32"/><stop offset=".854" stop-opacity=".443"/><stop offset="1" stop-opacity=".443"/></linearGradient>
<linearGradient id="g69" gradientUnits="userSpaceOnUse" x1="0" y1="0" x2="95" y2="0"><stop offset="0" stop-opacity=".13"/><stop offset="1" stop-opacity=".13"/></linearGradient>
<linearGradient id="g70" gradientUnits="userSpaceOnUse" x1="0" y1="0" x2="95" y2="0"><stop offset="0" stop-opacity=".137"/><stop offset=".316" stop-opacity=".168"/><stop offset=".632" stop-opacity=".153"/></linearGradient>
<linearGradient id="g71" gradientUnits="userSpaceOnUse" x1="0" y1="0" x2="95" y2="0"><stop offset="0" stop-opacity=".685"/><stop offset=".042" stop-opacity=".627"/><stop offset=".084" stop-opacity=".53"/><stop offset=".147" stop-opacity=".53"/><stop offset=".368" stop-opacity=".512"/><stop offset=".579" stop-opacity=".454"/><stop offset=".632" stop-opacity=".433"/><stop offset=".737" stop-opacity=".474"/><stop offset=".863" stop-opacity=".53"/><stop offset=".947" stop-opacity=".573"/><stop offset="1" stop-opacity=".556"/></linearGradient>
<linearGradient id="g72" gradientUnits="userSpaceOnUse" x1="0" y1="0" x2="95" y2="0"><stop offset=".589" stop-opacity=".137"/><stop offset=".653" stop-opacity=".217"/><stop offset="1" stop-opacity=".217"/></linearGradient>
<linearGradient id="g73" gradientUnits="userSpaceOnUse" x1="0" y1="0" x2="95" y2="0"><stop offset="0" stop-opacity=".128"/><stop offset=".053" stop-opacity=".202"/><stop offset=".095" stop-opacity=".404"/><stop offset=".137" stop-opacity=".519"/><stop offset=".211" stop-opacity=".511"/><stop offset=".316" stop-opacity=".452"/><stop offset=".474" stop-opacity=".383"/><stop offset=".579" stop-opacity=".326"/><stop offset=".653" stop-opacity=".239"/><stop offset=".737" stop-opacity=".157"/><stop offset="1" stop-opacity=".157"/></linearGradient>
<linearGradient id="g74" gradientUnits="userSpaceOnUse" x1="0" y1="0" x2="95" y2="0"><stop offset="0" stop-opacity=".668"/><stop offset=".095" stop-opacity=".628"/><stop offset=".147" stop-opacity=".544"/><stop offset=".211" stop-opacity=".5"/><stop offset=".368" stop-opacity=".5"/><stop offset=".474" stop-opacity=".458"/><stop offset=".579" stop-opacity=".397"/><stop offset=".684" stop-opacity=".397"/><stop offset=".789" stop-opacity=".429"/><stop offset="1" stop-opacity=".429"/></linearGradient>
<linearGradient id="g75" gradientUnits="userSpaceOnUse" x1="0" y1="0" x2="95" y2="0"><stop offset="0" stop-opacity="0"/><stop offset=".168" stop-opacity="0"/><stop offset=".211" stop-opacity=".484"/><stop offset=".295" stop-opacity=".549"/><stop offset=".421" stop-opacity=".466"/><stop offset=".526" stop-opacity=".366"/><stop offset=".632" stop-opacity=".289"/><stop offset="1" stop-opacity=".183"/></linearGradient>
<linearGradient id="g76" gradientUnits="userSpaceOnUse" x1="0" y1="0" x2="95" y2="0"><stop offset="0" stop-opacity=".062"/><stop offset="1" stop-opacity=".062"/></linearGradient>
<linearGradient id="g77" gradientUnits="userSpaceOnUse" x1="0" y1="0" x2="95" y2="0"><stop offset="0" stop-opacity=".062"/><stop offset="1" stop-opacity=".062"/></linearGradient>
<linearGradient id="g78" gradientUnits="userSpaceOnUse" x1="0" y1="0" x2="95" y2="0"><stop offset=".211" stop-opacity=".058"/><stop offset="1" stop-opacity=".075"/></linearGradient>
</defs>
<rect x="0.40" y="0.50" width="67.40" height="16.80" fill="#d9d9d9" stroke="#a0a0a0" stroke-width="0.80"/>
<text x="5.30" y="13.10" class="djb" font-size="9.05" fill="#000" text-anchor="start" >(a-c) k<tspan font-size="5.5" dy="1">z</tspan><tspan dy="-1">=0.2</tspan></text>
<text x="6.80" y="38.10" class="dj" font-size="9.75" fill="#000" text-anchor="start" >E-E<tspan font-size="7">F</tspan> [eV]</text>
<rect x="138.20" y="0.50" width="43.90" height="17.10" fill="#fff" stroke="#a8a8a8" stroke-width="0.80"/>
<text x="160.35" y="13.00" class="dj" font-size="8.90" fill="#000" text-anchor="middle" >In(2) 5p</text>
<rect x="69.30" y="33.50" width="95.00" height="155.00" fill="#30123b"/>
<g transform="translate(69.30,33.50)" filter="url(#turbo)" fill="none" stroke-width="2">
<rect x="-2" y="-2" width="99" height="159" fill="#000"/>
<use href="#k1_1" stroke="url(#g1)" stroke-width="1.5"/>
<use href="#k1_2" stroke="url(#g2)" stroke-width="1.3"/>
<use href="#k1_3" stroke="url(#g3)" stroke-width="1.5"/>
<use href="#k1_4" stroke="url(#g4)" stroke-width="1.5"/>
<use href="#k1_5" stroke="url(#g5)" stroke-width="1.8"/>
<use href="#k1_6" stroke="url(#g6)" stroke-width="2.0"/>
<use href="#k1_6b" stroke="url(#g7)" stroke-width="1.4"/>
<use href="#k1_7" stroke="url(#g8)" stroke-width="1.0"/>
<use href="#k1_8" stroke="url(#g9)" stroke-width="1.5"/>
<use href="#k1_9" stroke="url(#g10)" stroke-width="1.5"/>
<use href="#k1_10" stroke="url(#g11)" stroke-width="1.6"/>
<use href="#k1_11" stroke="url(#g12)" stroke-width="3.0"/>
<use href="#k1_12" stroke="url(#g13)" stroke-width="2.4"/>
<use href="#k1_13" stroke="url(#g14)" stroke-width="2.4"/>
<use href="#k1_14" stroke="url(#g15)" stroke-width="2.4"/>
</g>
<rect x="164.30" y="33.50" width="84.80" height="155.00" fill="#fff"/>
<g clip-path="url(#cw00)">
<path d="M188.80,32.50C189.30,33.33 190.72,35.82 191.80,37.50C192.88,39.18 193.74,39.85 195.26,42.57C196.78,45.30 198.83,50.40 200.90,53.86C202.97,57.32 205.61,61.27 207.68,63.34C209.75,65.41 211.44,66.54 213.32,66.28C215.20,66.01 217.27,64.39 218.96,61.76C220.66,59.13 222.16,53.67 223.48,50.47C224.79,47.28 225.85,44.34 226.86,42.57C227.88,40.81 228.63,39.86 229.57,39.86C230.51,39.86 231.27,40.24 232.51,42.57C233.75,44.91 235.33,49.91 237.02,53.86C238.71,57.81 240.63,63.00 242.66,66.28C244.70,69.55 248.12,72.29 249.21,73.50" fill="none" stroke="#f40808" stroke-width="1.90" stroke-dasharray="1.5 0.5"/>
<path d="M188.80,32.50C189.30,33.33 190.72,35.82 191.80,37.50C192.88,39.18 193.74,39.85 195.26,42.57C196.78,45.30 198.83,50.40 200.90,53.86C202.97,57.32 205.61,61.27 207.68,63.34C209.75,65.41 211.44,66.54 213.32,66.28C215.20,66.01 217.27,64.39 218.96,61.76C220.66,59.13 222.16,53.67 223.48,50.47C224.79,47.28 225.85,44.34 226.86,42.57C227.88,40.81 228.63,39.86 229.57,39.86C230.51,39.86 231.27,40.24 232.51,42.57C233.75,44.91 235.33,49.91 237.02,53.86C238.71,57.81 240.63,63.00 242.66,66.28C244.70,69.55 248.12,72.29 249.21,73.50" fill="none" stroke="#4a0404" stroke-width="1.0" stroke-dasharray="1.0 1.0"/>
<path d="M164.2,164.4L165.0,164.5L166.2,164.6L167.6,164.8L169.1,165.0L170.6,165.3L172.0,165.6L173.3,166.1L174.7,166.8L176.1,167.5L177.5,168.3L179.0,169.1L180.6,169.9L182.2,170.7L183.9,171.6L185.6,172.5L187.3,173.4L189.0,174.2L190.7,174.9L192.3,175.5L193.8,176.1L195.3,176.6L196.8,177.0L198.3,177.3L199.7,177.5L201.1,177.6L202.5,177.6L203.7,177.5L205.0,177.3L206.2,177.2L207.5,177.1L208.9,176.9L210.4,176.7L211.9,176.5L213.4,176.3L214.8,176.3L216.0,176.3L217.3,176.5L218.5,176.8L219.7,177.2L220.8,177.7L222.0,178.2L223.0,178.8L224.0,179.5L225.0,180.2L225.9,181.0L226.8,181.9L227.8,182.8L228.9,183.8L230.2,185.0L231.6,186.3L233.1,187.6L234.4,188.9L235.6,190.0L236.4,190.8L238.5,188.6L237.7,187.8L236.5,186.7L235.1,185.4L233.7,184.1L232.2,182.7L230.9,181.6L229.8,180.6L228.8,179.7L227.7,178.8L226.6,178.0L225.5,177.2L224.3,176.6L223.1,176.0L221.8,175.4L220.5,175.0L219.1,174.6L217.7,174.3L216.3,174.1L214.7,174.0L213.2,174.1L211.6,174.3L210.1,174.5L208.7,174.7L207.3,174.8L205.9,175.0L204.7,175.1L203.5,175.3L202.4,175.4L201.2,175.4L200.0,175.4L198.7,175.2L197.3,174.9L195.9,174.5L194.5,174.0L193.0,173.5L191.5,172.9L189.9,172.3L188.3,171.5L186.6,170.6L184.9,169.7L183.2,168.8L181.5,168.0L180.0,167.2L178.5,166.4L177.0,165.6L175.6,164.9L174.1,164.2L172.6,163.7L171.0,163.3L169.4,163.0L167.9,162.8L166.4,162.6L165.2,162.5L164.4,162.4Z" fill="#f40808"/>
<path d="M164.28,163.41C165.61,163.62 169.50,163.74 172.30,164.66C175.10,165.58 177.94,167.38 181.07,168.92C184.20,170.47 187.96,172.68 191.09,173.93C194.23,175.19 197.15,176.11 199.87,176.44C202.58,176.78 204.67,176.15 207.38,175.94C210.10,175.73 213.44,174.90 216.16,175.19C218.87,175.48 221.38,176.44 223.68,177.69C225.97,178.95 227.64,180.70 229.94,182.71C232.24,184.71 236.21,188.55 237.46,189.72" fill="none" stroke="#4a0404" stroke-width="0.85"/>
<path d="M164.4,152.4L165.7,152.2L167.5,152.0L169.6,151.7L171.9,151.4L174.1,151.0L176.2,150.7L178.0,150.3L179.8,149.9L181.5,149.4L183.1,149.0L184.7,148.5L186.2,148.2L187.6,147.8L188.8,147.5L190.0,147.2L191.1,146.9L192.3,146.6L193.7,146.4L195.2,146.2L196.8,146.0L198.5,145.8L200.2,145.7L201.9,145.6L203.6,145.7L205.2,145.8L206.8,146.1L208.4,146.4L210.0,146.8L211.7,147.3L213.5,147.7L215.5,148.1L217.5,148.6L219.6,149.2L221.8,149.7L223.9,150.2L226.1,150.7L228.2,151.2L230.3,151.6L232.4,152.1L234.5,152.5L236.6,152.9L238.6,153.2L240.7,153.5L242.9,153.6L245.0,153.8L246.9,153.9L248.5,153.9L249.7,154.0L249.8,152.8L248.6,152.7L247.0,152.7L245.0,152.6L243.0,152.4L240.8,152.3L238.8,152.0L236.8,151.7L234.8,151.4L232.7,150.9L230.5,150.5L228.4,150.0L226.3,149.6L224.2,149.1L222.1,148.6L219.9,148.0L217.8,147.5L215.7,147.0L213.8,146.6L212.0,146.1L210.3,145.7L208.6,145.3L207.0,145.0L205.3,144.7L203.7,144.5L201.9,144.5L200.2,144.6L198.4,144.7L196.7,144.9L195.0,145.1L193.5,145.3L192.1,145.5L190.9,145.8L189.7,146.1L188.5,146.4L187.3,146.7L185.9,147.1L184.4,147.5L182.8,147.9L181.2,148.3L179.5,148.8L177.7,149.2L176.0,149.6L174.0,149.9L171.7,150.3L169.5,150.6L167.3,150.9L165.5,151.2L164.2,151.3Z" fill="#f40808"/>
<path d="M164.28,151.88C166.24,151.59 172.42,150.84 176.06,150.13C179.69,149.42 183.16,148.33 186.08,147.62C189.01,146.91 190.68,146.28 193.60,145.86C196.52,145.45 200.28,144.90 203.63,145.11C206.97,145.32 209.89,146.28 213.65,147.12C217.41,147.95 222.00,149.21 226.18,150.13C230.36,151.04 234.79,152.09 238.71,152.63C242.64,153.17 247.90,153.26 249.74,153.38" fill="none" stroke="#4a0404" stroke-width="0.85"/>
<path d="M164.4,156.2L165.4,156.0L166.7,155.9L168.4,155.6L170.2,155.3L172.0,154.9L173.7,154.4L175.4,153.7L177.2,152.9L178.9,152.0L180.7,151.1L182.3,150.2L183.8,149.4L185.2,148.8L186.5,148.2L187.8,147.7L189.0,147.1L190.3,146.5L191.5,145.6L192.7,144.6L193.8,143.5L194.8,142.2L195.8,140.9L196.9,139.6L198.1,138.2L199.4,136.6L200.8,134.9L202.3,133.1L203.8,131.4L205.3,129.7L206.8,128.3L208.3,127.1L209.9,126.0L211.6,125.0L213.2,124.0L214.9,123.1L216.6,122.2L218.3,121.3L219.9,120.5L221.6,119.7L223.3,118.9L225.0,118.1L226.7,117.1L228.4,116.1L230.1,115.1L231.9,113.9L233.6,112.8L235.2,111.8L236.7,110.8L238.1,109.9L239.5,109.1L240.7,108.2L241.9,107.5L243.0,106.9L244.1,106.4L245.1,106.1L246.2,105.8L247.3,105.7L248.3,105.6L249.2,105.5L249.8,105.5L249.6,103.6L249.0,103.6L248.2,103.7L247.1,103.8L245.9,103.9L244.6,104.2L243.4,104.6L242.2,105.2L240.9,105.9L239.7,106.6L238.4,107.5L237.1,108.3L235.7,109.2L234.2,110.2L232.5,111.2L230.8,112.3L229.1,113.4L227.4,114.5L225.7,115.4L224.1,116.3L222.4,117.1L220.8,117.9L219.1,118.7L217.4,119.5L215.7,120.4L214.0,121.4L212.3,122.3L210.6,123.3L208.8,124.3L207.1,125.5L205.5,126.8L203.9,128.4L202.3,130.1L200.7,131.9L199.3,133.7L197.9,135.4L196.6,137.0L195.5,138.5L194.5,139.9L193.5,141.3L192.6,142.5L191.7,143.6L190.7,144.6L189.6,145.4L188.5,146.1L187.3,146.6L186.1,147.1L184.7,147.7L183.3,148.3L181.8,149.2L180.1,150.1L178.4,151.0L176.7,151.9L175.0,152.7L173.4,153.3L171.7,153.8L170.0,154.2L168.2,154.5L166.6,154.8L165.2,154.9L164.2,155.1Z" fill="#f40808"/>
<path d="M164.28,155.64C165.82,155.35 170.33,155.01 173.55,153.88C176.77,152.76 180.65,150.33 183.58,148.87C186.50,147.41 188.80,146.99 191.09,145.11C193.39,143.23 194.85,140.52 197.36,137.59C199.87,134.67 203.00,130.28 206.13,127.57C209.26,124.85 212.81,123.18 216.16,121.30C219.50,119.42 222.84,118.17 226.18,116.29C229.52,114.41 233.28,111.82 236.21,110.03C239.13,108.23 241.47,106.43 243.73,105.51C245.98,104.59 248.74,104.68 249.74,104.51" fill="none" stroke="#4a0404" stroke-width="0.85"/>
<path d="M164.0,100.4L164.8,100.4L165.9,100.5L167.1,100.6L168.4,100.7L169.6,100.9L170.9,101.2L172.1,101.6L173.5,102.1L175.1,102.8L176.6,103.4L178.3,104.1L179.9,104.7L181.5,105.3L183.1,105.9L184.8,106.4L186.4,107.0L187.9,107.4L189.3,107.8L190.4,108.0L191.4,108.2L192.4,108.3L193.3,108.3L194.4,108.2L195.5,108.0L196.7,107.7L198.1,107.3L199.4,106.8L200.9,106.1L202.3,105.4L203.8,104.5L205.3,103.4L206.8,102.1L208.4,100.7L209.9,99.3L211.4,97.9L213.0,96.4L214.5,94.9L216.0,93.4L217.5,91.9L219.0,90.3L220.5,88.8L222.0,87.4L223.5,85.9L225.0,84.5L226.5,83.1L227.9,81.8L229.4,80.6L230.8,79.6L232.3,78.7L233.7,77.9L235.1,77.2L236.6,76.6L238.0,76.1L239.6,75.6L241.2,75.2L243.1,74.9L244.9,74.6L246.7,74.4L248.2,74.2L249.3,74.0L249.1,72.1L248.0,72.2L246.5,72.4L244.7,72.6L242.7,72.9L240.8,73.2L239.0,73.6L237.4,74.1L235.8,74.7L234.3,75.3L232.8,76.0L231.2,76.9L229.7,77.8L228.1,78.9L226.6,80.2L225.0,81.5L223.5,83.0L222.0,84.4L220.5,85.8L219.0,87.3L217.4,88.8L215.9,90.3L214.4,91.9L212.9,93.4L211.4,94.8L209.9,96.3L208.4,97.7L206.9,99.1L205.4,100.4L203.9,101.6L202.5,102.6L201.2,103.4L199.9,104.1L198.6,104.7L197.3,105.2L196.1,105.5L195.0,105.8L194.1,105.9L193.3,106.0L192.6,105.9L191.9,105.7L191.0,105.5L190.0,105.1L188.7,104.7L187.4,104.2L185.9,103.5L184.3,102.8L182.8,102.1L181.3,101.4L179.9,100.7L178.4,99.9L176.9,99.0L175.3,98.2L173.8,97.4L172.3,96.8L170.7,96.3L169.1,96.0L167.7,95.8L166.4,95.6L165.4,95.5L164.6,95.4Z" fill="#f40808"/>
<path d="M164.34,97.88C165.54,98.07 168.85,98.14 171.56,99.01C174.27,99.87 177.58,101.83 180.59,103.07C183.60,104.31 187.17,105.82 189.62,106.46C192.06,107.10 193.00,107.40 195.26,106.91C197.52,106.42 200.34,105.40 203.16,103.52C205.98,101.64 209.18,98.44 212.19,95.62C215.20,92.80 218.21,89.41 221.22,86.59C224.23,83.77 227.24,80.68 230.25,78.69C233.26,76.70 236.12,75.57 239.28,74.63C242.44,73.69 247.56,73.31 249.21,73.05" fill="none" stroke="#4a0404" stroke-width="0.85"/>
<path d="M165.0,48.0L165.4,47.8L165.9,47.5L166.4,47.2L166.8,46.9L167.2,46.8L167.6,46.7L168.0,46.8L168.5,46.8L169.0,46.9L169.6,47.1L170.1,47.4L170.7,47.8L171.4,48.3L171.9,48.7L172.5,49.3L173.1,50.0L173.9,51.0L174.9,52.4L176.2,54.2L177.6,56.5L179.2,59.1L180.8,61.8L182.5,64.4L184.1,66.9L185.6,69.3L187.2,71.7L188.8,74.1L190.3,76.4L191.8,78.6L193.2,80.5L194.5,82.2L195.7,83.8L196.9,85.2L198.0,86.4L199.1,87.6L200.2,88.6L201.3,89.4L202.3,90.1L203.3,90.7L204.4,91.1L205.4,91.3L206.5,91.5L207.6,91.5L208.7,91.3L209.8,90.9L210.8,90.5L211.7,90.2L212.6,89.8L213.5,89.5L214.3,89.0L215.0,88.6L215.6,88.3L216.2,88.1L216.7,88.1L217.2,88.2L217.7,88.3L218.3,88.6L219.0,89.1L219.7,89.6L220.6,90.3L221.5,91.2L222.6,92.2L223.7,93.5L224.9,94.7L226.1,96.0L227.3,97.0L228.5,98.0L229.7,98.9L230.8,99.7L232.0,100.5L233.2,101.2L234.4,101.7L235.6,102.1L236.8,102.4L238.0,102.6L239.2,102.7L240.4,102.7L241.6,102.7L243.0,102.5L244.5,102.3L246.0,101.9L247.4,101.6L248.6,101.3L249.4,101.1L249.0,99.2L248.1,99.4L247.0,99.7L245.6,100.1L244.1,100.4L242.7,100.6L241.5,100.8L240.3,100.8L239.3,100.8L238.2,100.7L237.2,100.5L236.2,100.3L235.1,99.9L234.1,99.4L233.0,98.8L231.9,98.1L230.8,97.3L229.7,96.4L228.6,95.5L227.5,94.5L226.4,93.4L225.2,92.1L224.0,90.9L222.9,89.7L221.9,88.8L221.0,88.0L220.1,87.4L219.3,86.9L218.5,86.4L217.7,86.2L216.7,86.0L215.8,86.1L214.8,86.4L214.0,86.8L213.3,87.2L212.6,87.6L211.8,87.9L210.9,88.2L210.0,88.6L209.1,88.9L208.2,89.2L207.4,89.4L206.6,89.4L205.8,89.2L205.1,89.0L204.3,88.7L203.4,88.2L202.6,87.6L201.6,86.9L200.6,86.0L199.6,84.9L198.6,83.7L197.5,82.4L196.3,80.8L195.0,79.2L193.7,77.3L192.2,75.1L190.7,72.8L189.2,70.4L187.6,68.0L186.1,65.6L184.6,63.1L183.0,60.5L181.4,57.7L179.9,55.1L178.5,52.8L177.2,50.8L176.2,49.3L175.3,48.2L174.5,47.3L173.8,46.6L173.1,46.0L172.4,45.5L171.6,44.9L170.7,44.5L169.9,44.2L169.0,44.0L168.2,43.9L167.4,43.8L166.5,43.9L165.7,44.2L165.0,44.6L164.4,44.9L163.9,45.2L163.6,45.3Z" fill="#f40808"/>
<path d="M164.34,46.64C164.86,46.41 166.29,45.28 167.50,45.28C168.70,45.28 170.13,45.58 171.56,46.64C172.99,47.69 173.82,48.33 176.07,51.60C178.33,54.88 182.09,61.57 185.10,66.28C188.11,70.98 191.50,76.25 194.13,79.82C196.77,83.39 198.83,85.95 200.90,87.72C202.97,89.49 204.67,90.24 206.55,90.43C208.43,90.62 210.50,89.41 212.19,88.85C213.88,88.28 215.20,86.93 216.71,87.04C218.21,87.16 219.34,87.98 221.22,89.53C223.10,91.07 225.73,94.42 227.99,96.30C230.25,98.18 232.51,99.91 234.76,100.81C237.02,101.72 239.13,101.83 241.54,101.72C243.94,101.60 247.93,100.40 249.21,100.14" fill="none" stroke="#4a0404" stroke-width="0.85"/>
</g>
<line x1="69.30" y1="95.50" x2="164.30" y2="95.50" stroke="#b9b0b9" stroke-width="0.9"/>
<line x1="164.30" y1="95.50" x2="249.10" y2="95.50" stroke="#808080" stroke-width="0.8"/>
<path d="M69.30,33.50 H249.10 V188.50 H69.30" fill="none" stroke="#6a6a6a" stroke-width="0.9"/>
<line x1="64.10" y1="33.50" x2="69.30" y2="33.50" stroke="#707070" stroke-width="0.9"/>
<text x="57.90" y="36.70" class="dj" font-size="8.80" fill="#000" text-anchor="end" >1</text>
<line x1="64.10" y1="64.50" x2="69.30" y2="64.50" stroke="#707070" stroke-width="0.9"/>
<text x="57.90" y="67.70" class="dj" font-size="8.80" fill="#000" text-anchor="end" >0.5</text>
<line x1="64.10" y1="95.50" x2="69.30" y2="95.50" stroke="#707070" stroke-width="0.9"/>
<text x="57.90" y="98.70" class="dj" font-size="8.80" fill="#000" text-anchor="end" >0</text>
<line x1="64.10" y1="126.50" x2="69.30" y2="126.50" stroke="#707070" stroke-width="0.9"/>
<text x="57.90" y="129.70" class="dj" font-size="8.80" fill="#000" text-anchor="end" >-0.5</text>
<line x1="64.10" y1="157.50" x2="69.30" y2="157.50" stroke="#707070" stroke-width="0.9"/>
<text x="57.90" y="160.70" class="dj" font-size="8.80" fill="#000" text-anchor="end" >-1</text>
<line x1="64.10" y1="188.50" x2="69.30" y2="188.50" stroke="#707070" stroke-width="0.9"/>
<text x="57.90" y="191.70" class="dj" font-size="8.80" fill="#000" text-anchor="end" >-1.5</text>
<rect x="71.60" y="35.00" width="22.80" height="18.40" fill="#fff" fill-opacity="0.5"/>
<text x="83.40" y="48.50" class="dj" font-size="11.40" fill="#000" text-anchor="middle" >(a)</text>
<rect x="130.00" y="29.30" width="25.90" height="13.00" fill="#dedede" stroke="#5c5c5c" stroke-width="0.90"/>
<text x="143.00" y="38.50" class="ar" font-size="7.50" fill="#000" text-anchor="middle" >with 4f</text>
<rect x="176.40" y="29.30" width="20.90" height="13.00" fill="#dedede" stroke="#5c5c5c" stroke-width="0.90"/>
<text x="186.90" y="38.50" class="ar" font-size="7.50" fill="#000" text-anchor="middle" >no 4f</text>
<rect x="65.20" y="172.20" width="21.80" height="14.60" fill="#dedede" stroke="#5c5c5c" stroke-width="0.90"/>
<text x="67.70" y="182.90" class="ar" font-size="8.60" fill="#000" text-anchor="start" ><tspan font-style="italic">k</tspan><tspan font-style="italic" font-size="5.8" dy="1.2">x</tspan><tspan dy="-1.2">=0</tspan></text>
<rect x="156.70" y="172.20" width="15.20" height="14.60" fill="#dedede" stroke="#5c5c5c" stroke-width="0.90"/>
<text x="164.30" y="182.90" class="ar" font-size="8.60" fill="#000" text-anchor="middle" >0.5</text>
<rect x="236.10" y="172.20" width="10.40" height="14.60" fill="#dedede" stroke="#5c5c5c" stroke-width="0.90"/>
<text x="241.30" y="182.90" class="ar" font-size="8.60" fill="#000" text-anchor="middle" >0</text>
<text x="72.90" y="164.70" class="sb" font-size="13.20" fill="#4fb4ee" text-anchor="start" >x3.5</text>
<rect x="365.10" y="0.50" width="32.80" height="17.10" fill="#fff" stroke="#a8a8a8" stroke-width="0.80"/>
<text x="381.70" y="13.00" class="dj" font-size="8.90" fill="#000" text-anchor="middle" >Co 3d</text>
<rect x="285.10" y="33.50" width="95.00" height="155.00" fill="#30123b"/>
<g transform="translate(285.10,33.50)" filter="url(#turbo)" fill="none" stroke-width="2">
<rect x="-2" y="-2" width="99" height="159" fill="#000"/>
<use href="#k1_1" stroke="url(#g16)" stroke-width="1.4"/>
<use href="#k1_2" stroke="url(#g17)" stroke-width="1.3"/>
<use href="#k1_3" stroke="url(#g18)" stroke-width="1.5"/>
<use href="#k1_4" stroke="url(#g19)" stroke-width="1.5"/>
<use href="#k1_5" stroke="url(#g20)" stroke-width="1.8"/>
<use href="#k1_6" stroke="url(#g21)" stroke-width="2.0"/>
<use href="#k1_6b" stroke="url(#g22)" stroke-width="3.6"/>
<use href="#k1_7" stroke="url(#g23)" stroke-width="1.0"/>
<use href="#k1_8" stroke="url(#g24)" stroke-width="1.5"/>
<use href="#k1_9" stroke="url(#g25)" stroke-width="1.5"/>
<use href="#k1_10" stroke="url(#g26)" stroke-width="4.4"/>
<use href="#k1_11" stroke="url(#g27)" stroke-width="3.0"/>
<use href="#k1_12" stroke="url(#g28)" stroke-width="3.8"/>
<use href="#k1_13" stroke="url(#g29)" stroke-width="3.2"/>
<use href="#k1_14" stroke="url(#g30)" stroke-width="3.2"/>
</g>
<rect x="380.10" y="33.50" width="84.80" height="155.00" fill="#fff"/>
<g clip-path="url(#cw01)">
<path d="M404.60,32.50C405.10,33.33 406.52,35.82 407.60,37.50C408.68,39.18 409.54,39.85 411.06,42.57C412.58,45.30 414.63,50.40 416.70,53.86C418.77,57.32 421.41,61.27 423.48,63.34C425.55,65.41 427.24,66.54 429.12,66.28C431.00,66.01 433.07,64.39 434.76,61.76C436.46,59.13 437.96,53.67 439.28,50.47C440.59,47.28 441.65,44.34 442.66,42.57C443.68,40.81 444.43,39.86 445.37,39.86C446.31,39.86 447.07,40.24 448.31,42.57C449.55,44.91 451.13,49.91 452.82,53.86C454.51,57.81 456.43,63.00 458.46,66.28C460.50,69.55 463.92,72.29 465.01,73.50" fill="none" stroke="#f40808" stroke-width="1.90" stroke-dasharray="1.5 0.5"/>
<path d="M404.60,32.50C405.10,33.33 406.52,35.82 407.60,37.50C408.68,39.18 409.54,39.85 411.06,42.57C412.58,45.30 414.63,50.40 416.70,53.86C418.77,57.32 421.41,61.27 423.48,63.34C425.55,65.41 427.24,66.54 429.12,66.28C431.00,66.01 433.07,64.39 434.76,61.76C436.46,59.13 437.96,53.67 439.28,50.47C440.59,47.28 441.65,44.34 442.66,42.57C443.68,40.81 444.43,39.86 445.37,39.86C446.31,39.86 447.07,40.24 448.31,42.57C449.55,44.91 451.13,49.91 452.82,53.86C454.51,57.81 456.43,63.00 458.46,66.28C460.50,69.55 463.92,72.29 465.01,73.50" fill="none" stroke="#4a0404" stroke-width="1.0" stroke-dasharray="1.0 1.0"/>
<path d="M379.8,165.7L380.7,165.8L381.9,165.9L383.3,166.1L384.7,166.3L386.1,166.5L387.4,166.9L388.6,167.3L389.9,167.9L391.3,168.6L392.7,169.4L394.2,170.2L395.8,171.0L397.4,171.8L399.1,172.7L400.8,173.6L402.5,174.5L404.3,175.4L406.0,176.1L407.6,176.8L409.2,177.3L410.8,177.8L412.3,178.2L413.9,178.6L415.4,178.8L416.9,178.9L418.4,178.9L419.7,178.8L420.9,178.6L422.2,178.5L423.4,178.3L424.9,178.2L426.4,178.0L427.9,177.8L429.3,177.6L430.6,177.5L431.7,177.6L432.9,177.7L434.0,178.0L435.1,178.3L436.2,178.8L437.3,179.3L438.3,179.8L439.3,180.4L440.1,181.0L441.1,181.8L442.0,182.6L443.0,183.5L444.1,184.5L445.4,185.6L446.8,186.9L448.2,188.3L449.6,189.6L450.8,190.7L451.6,191.5L454.9,188.0L454.1,187.2L452.9,186.1L451.5,184.8L450.1,183.4L448.6,182.1L447.3,180.9L446.2,179.9L445.2,179.0L444.2,178.1L443.1,177.2L441.9,176.4L440.6,175.6L439.4,174.9L438.0,174.3L436.7,173.8L435.2,173.4L433.7,173.0L432.2,172.8L430.5,172.7L428.9,172.8L427.3,173.0L425.7,173.2L424.3,173.4L422.9,173.6L421.6,173.7L420.3,173.9L419.2,174.0L418.1,174.1L417.0,174.1L415.9,174.1L414.7,173.9L413.4,173.6L412.1,173.2L410.7,172.8L409.3,172.3L407.8,171.7L406.3,171.1L404.7,170.3L403.0,169.5L401.3,168.6L399.6,167.7L397.9,166.8L396.4,166.1L394.9,165.3L393.4,164.5L391.9,163.7L390.4,163.0L388.8,162.5L387.1,162.0L385.4,161.7L383.8,161.5L382.4,161.3L381.2,161.2L380.3,161.1Z" fill="#f40808"/>
<path d="M380.08,163.41C381.41,163.62 385.30,163.74 388.10,164.66C390.90,165.58 393.74,167.38 396.87,168.92C400.00,170.47 403.76,172.68 406.89,173.93C410.03,175.19 412.95,176.11 415.67,176.44C418.38,176.78 420.47,176.15 423.18,175.94C425.90,175.73 429.24,174.90 431.96,175.19C434.67,175.48 437.18,176.44 439.48,177.69C441.77,178.95 443.44,180.70 445.74,182.71C448.04,184.71 452.01,188.55 453.26,189.72" fill="none" stroke="#4a0404" stroke-width="0.85"/>
<path d="M380.5,154.7L381.8,154.5L383.6,154.2L385.7,153.9L388.0,153.6L390.3,153.3L392.4,152.9L394.3,152.5L396.1,152.1L397.9,151.6L399.5,151.2L401.1,150.8L402.6,150.4L404.0,150.1L405.2,149.7L406.4,149.4L407.4,149.2L408.6,148.9L409.8,148.7L411.3,148.5L412.9,148.3L414.5,148.2L416.1,148.0L417.7,148.0L419.2,148.1L420.7,148.2L422.1,148.5L423.6,148.8L425.2,149.2L426.9,149.6L428.8,150.0L430.7,150.5L432.7,151.0L434.8,151.5L437.0,152.1L439.2,152.6L441.3,153.1L443.4,153.6L445.6,154.1L447.7,154.6L449.9,155.0L452.0,155.4L454.1,155.7L456.3,156.0L458.5,156.2L460.6,156.3L462.6,156.4L464.2,156.5L465.4,156.6L465.7,150.2L464.5,150.1L462.9,150.1L461.0,150.0L458.9,149.9L456.9,149.7L454.9,149.5L453.0,149.2L451.0,148.9L449.0,148.5L446.9,148.0L444.8,147.6L442.7,147.1L440.6,146.7L438.4,146.2L436.3,145.6L434.2,145.1L432.1,144.6L430.1,144.2L428.3,143.8L426.6,143.4L424.9,143.0L423.2,142.6L421.5,142.3L419.6,142.2L417.7,142.1L415.8,142.2L414.0,142.3L412.2,142.5L410.5,142.8L409.0,143.0L407.5,143.2L406.2,143.5L404.9,143.8L403.7,144.2L402.5,144.5L401.2,144.8L399.7,145.2L398.0,145.7L396.4,146.1L394.7,146.6L393.0,147.0L391.3,147.3L389.4,147.7L387.2,148.0L384.9,148.4L382.8,148.7L381.0,148.9L379.7,149.1Z" fill="#f40808"/>
<path d="M380.08,151.88C382.04,151.59 388.22,150.84 391.86,150.13C395.49,149.42 398.96,148.33 401.88,147.62C404.81,146.91 406.48,146.28 409.40,145.86C412.32,145.45 416.08,144.90 419.43,145.11C422.77,145.32 425.69,146.28 429.45,147.12C433.21,147.95 437.80,149.21 441.98,150.13C446.16,151.04 450.59,152.09 454.51,152.63C458.44,153.17 463.70,153.26 465.54,153.38" fill="none" stroke="#4a0404" stroke-width="0.85"/>
<path d="M380.4,157.9L381.4,157.8L382.8,157.6L384.4,157.4L386.3,157.1L388.2,156.7L390.1,156.1L391.9,155.4L393.8,154.5L395.6,153.6L397.3,152.7L399.0,151.8L400.4,151.0L401.8,150.4L403.0,149.9L404.3,149.4L405.7,148.8L407.1,148.0L408.5,147.0L409.8,145.9L410.9,144.6L412.0,143.3L413.0,142.0L414.0,140.6L415.2,139.2L416.5,137.7L417.9,136.0L419.4,134.2L420.8,132.5L422.3,130.9L423.7,129.6L425.1,128.4L426.6,127.4L428.2,126.4L429.8,125.5L431.5,124.5L433.2,123.6L434.8,122.7L436.4,121.9L438.1,121.1L439.7,120.3L441.5,119.4L443.2,118.5L445.0,117.4L446.7,116.3L448.5,115.2L450.2,114.1L451.8,113.0L453.3,112.1L454.7,111.2L456.1,110.3L457.3,109.4L458.4,108.7L459.5,108.1L460.4,107.7L461.3,107.4L462.3,107.2L463.3,107.0L464.2,106.9L465.1,106.9L465.8,106.8L465.3,102.2L464.7,102.3L463.9,102.3L462.7,102.4L461.5,102.6L460.1,102.9L458.7,103.3L457.3,103.9L456.0,104.7L454.7,105.4L453.4,106.3L452.1,107.1L450.7,108.0L449.2,108.9L447.5,110.0L445.8,111.1L444.1,112.1L442.4,113.2L440.8,114.1L439.2,114.9L437.5,115.7L435.9,116.5L434.2,117.3L432.4,118.1L430.7,119.0L429.0,119.9L427.3,120.9L425.5,121.8L423.7,122.9L421.9,124.1L420.2,125.5L418.4,127.2L416.8,128.9L415.3,130.8L413.8,132.6L412.4,134.4L411.2,135.9L410.0,137.4L408.9,138.9L407.9,140.2L407.0,141.4L406.2,142.3L405.3,143.2L404.4,143.8L403.5,144.4L402.4,144.9L401.2,145.4L399.8,146.0L398.3,146.7L396.7,147.6L395.1,148.5L393.4,149.4L391.7,150.3L390.1,151.1L388.6,151.7L387.1,152.1L385.4,152.5L383.7,152.8L382.1,153.0L380.8,153.2L379.7,153.4Z" fill="#f40808"/>
<path d="M380.08,155.64C381.62,155.35 386.13,155.01 389.35,153.88C392.57,152.76 396.45,150.33 399.38,148.87C402.30,147.41 404.60,146.99 406.89,145.11C409.19,143.23 410.65,140.52 413.16,137.59C415.67,134.67 418.80,130.28 421.93,127.57C425.06,124.85 428.61,123.18 431.96,121.30C435.30,119.42 438.64,118.17 441.98,116.29C445.32,114.41 449.08,111.82 452.01,110.03C454.93,108.23 457.27,106.43 459.53,105.51C461.78,104.59 464.54,104.68 465.54,104.51" fill="none" stroke="#4a0404" stroke-width="0.85"/>
<path d="M380.1,98.5L380.8,98.6L381.9,98.7L383.1,98.8L384.5,99.0L385.8,99.2L387.2,99.6L388.5,100.1L390.0,100.7L391.5,101.5L393.0,102.2L394.6,103.0L396.1,103.7L397.7,104.3L399.3,105.0L400.9,105.6L402.4,106.2L403.9,106.7L405.2,107.1L406.4,107.4L407.3,107.6L408.2,107.8L409.1,107.8L410.1,107.8L411.2,107.6L412.4,107.3L413.7,107.0L415.1,106.5L416.5,105.9L418.0,105.1L419.5,104.2L421.0,103.2L422.5,102.0L424.1,100.6L425.6,99.2L427.2,97.8L428.8,96.5L430.4,95.0L431.9,93.6L433.5,92.1L435.1,90.6L436.6,89.2L438.2,87.8L439.7,86.4L441.3,85.0L442.8,83.7L444.3,82.5L445.7,81.3L447.2,80.4L448.6,79.6L450.0,78.9L451.4,78.3L452.8,77.7L454.2,77.2L455.7,76.8L457.3,76.4L459.1,76.1L460.9,75.8L462.7,75.6L464.2,75.5L465.3,75.3L464.7,70.8L463.6,70.9L462.1,71.1L460.3,71.3L458.3,71.6L456.3,72.0L454.5,72.5L452.8,73.0L451.2,73.6L449.6,74.2L448.1,75.0L446.5,76.0L444.9,77.0L443.3,78.2L441.8,79.5L440.3,81.0L438.8,82.4L437.3,83.9L435.9,85.4L434.4,86.9L433.0,88.5L431.5,90.1L430.1,91.7L428.6,93.3L427.2,94.8L425.7,96.3L424.3,97.8L422.8,99.2L421.3,100.6L419.8,101.8L418.5,102.8L417.1,103.7L415.8,104.4L414.5,105.0L413.2,105.5L412.0,105.9L410.9,106.2L409.9,106.4L409.1,106.5L408.4,106.4L407.6,106.3L406.7,106.1L405.6,105.8L404.3,105.4L402.9,104.9L401.4,104.4L399.8,103.7L398.2,103.1L396.6,102.5L395.1,101.8L393.6,101.1L392.0,100.3L390.5,99.6L389.0,98.9L387.5,98.4L386.1,98.0L384.6,97.8L383.3,97.6L382.0,97.5L381.0,97.4L380.2,97.3Z" fill="#f40808"/>
<path d="M380.14,97.88C381.34,98.07 384.65,98.14 387.36,99.01C390.07,99.87 393.38,101.83 396.39,103.07C399.40,104.31 402.97,105.82 405.42,106.46C407.86,107.10 408.80,107.40 411.06,106.91C413.32,106.42 416.14,105.40 418.96,103.52C421.78,101.64 424.98,98.44 427.99,95.62C431.00,92.80 434.01,89.41 437.02,86.59C440.03,83.77 443.04,80.68 446.05,78.69C449.06,76.70 451.92,75.57 455.08,74.63C458.24,73.69 463.36,73.31 465.01,73.05" fill="none" stroke="#4a0404" stroke-width="0.85"/>
<path d="M380.7,47.6L381.0,47.4L381.5,47.1L382.0,46.8L382.5,46.6L382.9,46.4L383.3,46.4L383.8,46.4L384.4,46.5L384.9,46.6L385.5,46.8L386.1,47.1L386.7,47.5L387.4,48.0L387.9,48.5L388.5,49.0L389.2,49.8L390.0,50.8L391.0,52.2L392.2,54.1L393.6,56.4L395.2,59.0L396.8,61.7L398.4,64.4L400.0,66.9L401.5,69.3L403.1,71.7L404.6,74.1L406.2,76.4L407.7,78.5L409.0,80.5L410.3,82.2L411.5,83.7L412.7,85.2L413.8,86.4L414.9,87.6L416.0,88.6L417.1,89.4L418.1,90.1L419.1,90.7L420.2,91.1L421.2,91.4L422.3,91.5L423.4,91.5L424.5,91.3L425.6,91.0L426.6,90.6L427.5,90.3L428.4,90.0L429.3,89.6L430.2,89.2L430.9,88.8L431.5,88.6L432.0,88.4L432.4,88.4L432.9,88.5L433.4,88.7L433.9,89.0L434.5,89.4L435.2,90.0L436.0,90.7L436.9,91.6L437.9,92.7L439.0,93.9L440.2,95.2L441.4,96.5L442.6,97.7L443.8,98.6L444.9,99.6L446.1,100.5L447.3,101.3L448.5,102.1L449.8,102.7L451.1,103.1L452.4,103.5L453.7,103.7L454.9,103.8L456.2,103.8L457.5,103.8L458.9,103.6L460.5,103.3L462.1,103.0L463.5,102.7L464.7,102.4L465.5,102.2L464.5,98.1L463.7,98.3L462.5,98.6L461.1,99.0L459.7,99.3L458.4,99.5L457.2,99.7L456.1,99.7L455.1,99.7L454.1,99.6L453.2,99.5L452.3,99.3L451.3,99.0L450.3,98.5L449.3,98.0L448.3,97.4L447.2,96.6L446.1,95.8L445.0,94.9L443.9,94.0L442.7,92.9L441.5,91.6L440.3,90.4L439.1,89.3L438.0,88.3L437.1,87.6L436.2,87.0L435.4,86.5L434.5,86.1L433.6,85.8L432.6,85.7L431.5,85.8L430.5,86.1L429.7,86.5L429.0,87.0L428.3,87.4L427.5,87.7L426.7,88.1L425.8,88.5L424.9,88.9L424.0,89.2L423.2,89.3L422.4,89.3L421.6,89.2L420.9,89.0L420.1,88.7L419.2,88.2L418.4,87.6L417.4,86.9L416.4,86.0L415.4,84.9L414.4,83.7L413.3,82.4L412.1,80.9L410.8,79.2L409.5,77.3L408.0,75.1L406.5,72.9L404.9,70.5L403.4,68.1L401.8,65.7L400.3,63.2L398.7,60.5L397.0,57.8L395.5,55.2L394.0,52.9L392.8,51.0L391.7,49.5L390.9,48.4L390.1,47.5L389.4,46.8L388.7,46.3L388.0,45.7L387.2,45.2L386.4,44.8L385.6,44.5L384.8,44.3L384.0,44.2L383.2,44.2L382.4,44.3L381.6,44.6L380.9,44.9L380.4,45.2L379.9,45.5L379.6,45.7Z" fill="#f40808"/>
<path d="M380.14,46.64C380.66,46.41 382.09,45.28 383.30,45.28C384.50,45.28 385.93,45.58 387.36,46.64C388.79,47.69 389.62,48.33 391.87,51.60C394.13,54.88 397.89,61.57 400.90,66.28C403.91,70.98 407.30,76.25 409.93,79.82C412.57,83.39 414.63,85.95 416.70,87.72C418.77,89.49 420.47,90.24 422.35,90.43C424.23,90.62 426.30,89.41 427.99,88.85C429.68,88.28 431.00,86.93 432.51,87.04C434.01,87.16 435.14,87.98 437.02,89.53C438.90,91.07 441.53,94.42 443.79,96.30C446.05,98.18 448.31,99.91 450.56,100.81C452.82,101.72 454.93,101.83 457.34,101.72C459.74,101.60 463.73,100.40 465.01,100.14" fill="none" stroke="#4a0404" stroke-width="0.85"/>
</g>
<line x1="285.10" y1="95.50" x2="380.10" y2="95.50" stroke="#b9b0b9" stroke-width="0.9"/>
<line x1="380.10" y1="95.50" x2="464.90" y2="95.50" stroke="#808080" stroke-width="0.8"/>
<path d="M285.10,33.50 H464.90 V188.50 H285.10" fill="none" stroke="#6a6a6a" stroke-width="0.9"/>
<line x1="279.90" y1="33.50" x2="285.10" y2="33.50" stroke="#707070" stroke-width="0.9"/>
<text x="273.70" y="36.70" class="dj" font-size="8.80" fill="#000" text-anchor="end" >1</text>
<line x1="279.90" y1="64.50" x2="285.10" y2="64.50" stroke="#707070" stroke-width="0.9"/>
<text x="273.70" y="67.70" class="dj" font-size="8.80" fill="#000" text-anchor="end" >0.5</text>
<line x1="279.90" y1="95.50" x2="285.10" y2="95.50" stroke="#707070" stroke-width="0.9"/>
<text x="273.70" y="98.70" class="dj" font-size="8.80" fill="#000" text-anchor="end" >0</text>
<line x1="279.90" y1="126.50" x2="285.10" y2="126.50" stroke="#707070" stroke-width="0.9"/>
<text x="273.70" y="129.70" class="dj" font-size="8.80" fill="#000" text-anchor="end" >-0.5</text>
<line x1="279.90" y1="157.50" x2="285.10" y2="157.50" stroke="#707070" stroke-width="0.9"/>
<text x="273.70" y="160.70" class="dj" font-size="8.80" fill="#000" text-anchor="end" >-1</text>
<line x1="279.90" y1="188.50" x2="285.10" y2="188.50" stroke="#707070" stroke-width="0.9"/>
<text x="273.70" y="191.70" class="dj" font-size="8.80" fill="#000" text-anchor="end" >-1.5</text>
<rect x="287.40" y="35.00" width="22.80" height="18.40" fill="#fff" fill-opacity="0.5"/>
<text x="299.20" y="48.50" class="dj" font-size="11.40" fill="#000" text-anchor="middle" >(b)</text>
<rect x="345.80" y="29.30" width="25.90" height="13.00" fill="#dedede" stroke="#5c5c5c" stroke-width="0.90"/>
<text x="358.80" y="38.50" class="ar" font-size="7.50" fill="#000" text-anchor="middle" >with 4f</text>
<rect x="392.20" y="29.30" width="20.90" height="13.00" fill="#dedede" stroke="#5c5c5c" stroke-width="0.90"/>
<text x="402.70" y="38.50" class="ar" font-size="7.50" fill="#000" text-anchor="middle" >no 4f</text>
<rect x="281.00" y="172.20" width="21.80" height="14.60" fill="#dedede" stroke="#5c5c5c" stroke-width="0.90"/>
<text x="283.50" y="182.90" class="ar" font-size="8.60" fill="#000" text-anchor="start" ><tspan font-style="italic">k</tspan><tspan font-style="italic" font-size="5.8" dy="1.2">x</tspan><tspan dy="-1.2">=0</tspan></text>
<rect x="372.50" y="172.20" width="15.20" height="14.60" fill="#dedede" stroke="#5c5c5c" stroke-width="0.90"/>
<text x="380.10" y="182.90" class="ar" font-size="8.60" fill="#000" text-anchor="middle" >0.5</text>
<rect x="451.90" y="172.20" width="10.40" height="14.60" fill="#dedede" stroke="#5c5c5c" stroke-width="0.90"/>
<text x="457.10" y="182.90" class="ar" font-size="8.60" fill="#000" text-anchor="middle" >0</text>
<text x="292.20" y="164.70" class="sb" font-size="13.20" fill="#4fb4ee" text-anchor="start" >x1</text>
<rect x="580.40" y="0.50" width="33.20" height="17.10" fill="#fff" stroke="#a8a8a8" stroke-width="0.80"/>
<text x="597.20" y="13.00" class="dj" font-size="8.90" fill="#000" text-anchor="middle" >Sm 4f</text>
<rect x="500.80" y="33.50" width="95.00" height="155.00" fill="#30123b"/>
<g transform="translate(500.80,33.50)" filter="url(#turbo)" fill="none" stroke-width="2">
<rect x="-2" y="-2" width="99" height="159" fill="#000"/>
<use href="#k1_1" stroke="url(#g31)" stroke-width="1.2"/>
<use href="#k1_2" stroke="url(#g32)" stroke-width="1.3"/>
<use href="#k1_3" stroke="url(#g33)" stroke-width="1.5"/>
<use href="#k1_4" stroke="url(#g34)" stroke-width="1.5"/>
<use href="#k1_5" stroke="url(#g35)" stroke-width="1.9"/>
<use href="#k1_6" stroke="url(#g36)" stroke-width="2.0"/>
<use href="#k1_6b" stroke="url(#g37)" stroke-width="3.6"/>
<use href="#k1_7" stroke="url(#g38)" stroke-width="1.0"/>
<use href="#k1_8" stroke="url(#g39)" stroke-width="1.5"/>
<use href="#k1_9" stroke="url(#g40)" stroke-width="1.5"/>
<use href="#k1_10" stroke="url(#g41)" stroke-width="4.4"/>
<use href="#k1_12" stroke="url(#g42)" stroke-width="3.8"/>
</g>
<rect x="595.80" y="33.50" width="84.80" height="155.00" fill="#fff"/>
<g clip-path="url(#cw02)">
<path d="M620.30,32.50C620.80,33.33 622.22,35.82 623.30,37.50C624.38,39.18 625.24,39.85 626.76,42.57C628.28,45.30 630.33,50.40 632.40,53.86C634.47,57.32 637.11,61.27 639.18,63.34C641.25,65.41 642.94,66.54 644.82,66.28C646.70,66.01 648.77,64.39 650.46,61.76C652.16,59.13 653.66,53.67 654.98,50.47C656.29,47.28 657.35,44.34 658.36,42.57C659.38,40.81 660.13,39.86 661.07,39.86C662.01,39.86 662.77,40.24 664.01,42.57C665.25,44.91 666.83,49.91 668.52,53.86C670.21,57.81 672.13,63.00 674.16,66.28C676.20,69.55 679.62,72.29 680.71,73.50" fill="none" stroke="#333" stroke-width="0.80"/>
<path d="M595.78,163.41C597.11,163.62 601.00,163.74 603.80,164.66C606.60,165.58 609.44,167.38 612.57,168.92C615.70,170.47 619.46,172.68 622.59,173.93C625.73,175.19 628.65,176.11 631.37,176.44C634.08,176.78 636.17,176.15 638.88,175.94C641.60,175.73 644.94,174.90 647.66,175.19C650.37,175.48 652.88,176.44 655.18,177.69C657.47,178.95 659.14,180.70 661.44,182.71C663.74,184.71 667.71,188.55 668.96,189.72" fill="none" stroke="#333" stroke-width="0.80"/>
<path d="M595.78,151.88C597.74,151.59 603.92,150.84 607.56,150.13C611.19,149.42 614.66,148.33 617.58,147.62C620.51,146.91 622.18,146.28 625.10,145.86C628.02,145.45 631.78,144.90 635.13,145.11C638.47,145.32 641.39,146.28 645.15,147.12C648.91,147.95 653.50,149.21 657.68,150.13C661.86,151.04 666.29,152.09 670.21,152.63C674.14,153.17 679.40,153.26 681.24,153.38" fill="none" stroke="#333" stroke-width="0.80"/>
<path d="M595.78,155.64C597.32,155.35 601.83,155.01 605.05,153.88C608.27,152.76 612.15,150.33 615.08,148.87C618.00,147.41 620.30,146.99 622.59,145.11C624.89,143.23 626.35,140.52 628.86,137.59C631.37,134.67 634.50,130.28 637.63,127.57C640.76,124.85 644.31,123.18 647.66,121.30C651.00,119.42 654.34,118.17 657.68,116.29C661.02,114.41 664.78,111.82 667.71,110.03C670.63,108.23 672.97,106.43 675.23,105.51C677.48,104.59 680.24,104.68 681.24,104.51" fill="none" stroke="#333" stroke-width="0.80"/>
<path d="M595.84,97.88C597.04,98.07 600.35,98.14 603.06,99.01C605.77,99.87 609.08,101.83 612.09,103.07C615.10,104.31 618.67,105.82 621.12,106.46C623.56,107.10 624.50,107.40 626.76,106.91C629.02,106.42 631.84,105.40 634.66,103.52C637.48,101.64 640.68,98.44 643.69,95.62C646.70,92.80 649.71,89.41 652.72,86.59C655.73,83.77 658.74,80.68 661.75,78.69C664.76,76.70 667.62,75.57 670.78,74.63C673.94,73.69 679.06,73.31 680.71,73.05" fill="none" stroke="#333" stroke-width="0.80"/>
<path d="M595.84,46.64C596.36,46.41 597.79,45.28 599.00,45.28C600.20,45.28 601.63,45.58 603.06,46.64C604.49,47.69 605.32,48.33 607.57,51.60C609.83,54.88 613.59,61.57 616.60,66.28C619.61,70.98 623.00,76.25 625.63,79.82C628.27,83.39 630.33,85.95 632.40,87.72C634.47,89.49 636.17,90.24 638.05,90.43C639.93,90.62 642.00,89.41 643.69,88.85C645.38,88.28 646.70,86.93 648.21,87.04C649.71,87.16 650.84,87.98 652.72,89.53C654.60,91.07 657.23,94.42 659.49,96.30C661.75,98.18 664.01,99.91 666.26,100.81C668.52,101.72 670.63,101.83 673.04,101.72C675.44,101.60 679.43,100.40 680.71,100.14" fill="none" stroke="#333" stroke-width="0.80"/>
</g>
<line x1="500.80" y1="95.50" x2="595.80" y2="95.50" stroke="#b9b0b9" stroke-width="0.9"/>
<line x1="595.80" y1="95.50" x2="680.60" y2="95.50" stroke="#808080" stroke-width="0.8"/>
<path d="M500.80,33.50 H680.60 V188.50 H500.80" fill="none" stroke="#6a6a6a" stroke-width="0.9"/>
<line x1="495.60" y1="33.50" x2="500.80" y2="33.50" stroke="#707070" stroke-width="0.9"/>
<text x="489.40" y="36.70" class="dj" font-size="8.80" fill="#000" text-anchor="end" >1</text>
<line x1="495.60" y1="64.50" x2="500.80" y2="64.50" stroke="#707070" stroke-width="0.9"/>
<text x="489.40" y="67.70" class="dj" font-size="8.80" fill="#000" text-anchor="end" >0.5</text>
<line x1="495.60" y1="95.50" x2="500.80" y2="95.50" stroke="#707070" stroke-width="0.9"/>
<text x="489.40" y="98.70" class="dj" font-size="8.80" fill="#000" text-anchor="end" >0</text>
<line x1="495.60" y1="126.50" x2="500.80" y2="126.50" stroke="#707070" stroke-width="0.9"/>
<text x="489.40" y="129.70" class="dj" font-size="8.80" fill="#000" text-anchor="end" >-0.5</text>
<line x1="495.60" y1="157.50" x2="500.80" y2="157.50" stroke="#707070" stroke-width="0.9"/>
<text x="489.40" y="160.70" class="dj" font-size="8.80" fill="#000" text-anchor="end" >-1</text>
<line x1="495.60" y1="188.50" x2="500.80" y2="188.50" stroke="#707070" stroke-width="0.9"/>
<text x="489.40" y="191.70" class="dj" font-size="8.80" fill="#000" text-anchor="end" >-1.5</text>
<rect x="503.10" y="35.00" width="22.80" height="18.40" fill="#fff" fill-opacity="0.5"/>
<text x="514.90" y="48.50" class="dj" font-size="11.40" fill="#000" text-anchor="middle" >(c)</text>
<rect x="561.50" y="29.30" width="25.90" height="13.00" fill="#dedede" stroke="#5c5c5c" stroke-width="0.90"/>
<text x="574.50" y="38.50" class="ar" font-size="7.50" fill="#000" text-anchor="middle" >with 4f</text>
<rect x="607.90" y="29.30" width="20.90" height="13.00" fill="#dedede" stroke="#5c5c5c" stroke-width="0.90"/>
<text x="618.40" y="38.50" class="ar" font-size="7.50" fill="#000" text-anchor="middle" >no 4f</text>
<rect x="496.70" y="172.20" width="21.80" height="14.60" fill="#dedede" stroke="#5c5c5c" stroke-width="0.90"/>
<text x="499.20" y="182.90" class="ar" font-size="8.60" fill="#000" text-anchor="start" ><tspan font-style="italic">k</tspan><tspan font-style="italic" font-size="5.8" dy="1.2">x</tspan><tspan dy="-1.2">=0</tspan></text>
<rect x="588.20" y="172.20" width="15.20" height="14.60" fill="#dedede" stroke="#5c5c5c" stroke-width="0.90"/>
<text x="595.80" y="182.90" class="ar" font-size="8.60" fill="#000" text-anchor="middle" >0.5</text>
<rect x="667.60" y="172.20" width="10.40" height="14.60" fill="#dedede" stroke="#5c5c5c" stroke-width="0.90"/>
<text x="672.80" y="182.90" class="ar" font-size="8.60" fill="#000" text-anchor="middle" >0</text>
<text x="508.80" y="164.70" class="sb" font-size="13.20" fill="#4fb4ee" text-anchor="start" >x2</text>
<rect x="1.20" y="210.30" width="66.10" height="17.70" fill="#d9d9d9" stroke="#a0a0a0" stroke-width="0.80"/>
<text x="5.80" y="223.10" class="djb" font-size="9.05" fill="#000" text-anchor="start" >(d-f) k<tspan font-size="5.5" dy="1">z</tspan><tspan dy="-1">=0.5</tspan></text>
<text x="6.80" y="244.60" class="dj" font-size="9.75" fill="#000" text-anchor="start" >E-E<tspan font-size="7">F</tspan> [eV]</text>
<rect x="138.20" y="210.30" width="43.90" height="17.70" fill="#fff" stroke="#a8a8a8" stroke-width="0.80"/>
<text x="160.35" y="223.00" class="dj" font-size="8.90" fill="#000" text-anchor="middle" >In(2) 5p</text>
<rect x="69.30" y="240.00" width="95.00" height="155.00" fill="#30123b"/>
<g transform="translate(69.30,240.00)" filter="url(#turbo)" fill="none" stroke-width="2">
<rect x="-2" y="-2" width="99" height="159" fill="#000"/>
<use href="#k2_M1" stroke="url(#g43)" stroke-width="2.0"/>
<use href="#k2_M4" stroke="url(#g44)" stroke-width="2.0"/>
<use href="#k2_M3" stroke="url(#g45)" stroke-width="2.0"/>
<use href="#k2_M5" stroke="url(#g46)" stroke-width="2.2"/>
<use href="#k2_F1" stroke="url(#g47)" stroke-width="2.6"/>
<use href="#k2_N1" stroke="url(#g48)" stroke-width="1.4"/>
<use href="#k2_N3" stroke="url(#g49)" stroke-width="3.6"/>
<use href="#k2_O1" stroke="url(#g50)" stroke-width="3.6"/>
<use href="#k2_O3" stroke="url(#g51)" stroke-width="3.0"/>
<use href="#k2_O5a" stroke="url(#g52)" stroke-width="1.6"/>
<use href="#k2_O5b" stroke="url(#g53)" stroke-width="2.6"/>
<use href="#k2_O5c" stroke="url(#g54)" stroke-width="3.0"/>
<use href="#k2_O6" stroke="url(#g55)" stroke-width="3.0"/>
<use href="#k2_M6" stroke="url(#g56)" stroke-width="2.6"/>
</g>
<rect x="164.30" y="240.00" width="84.80" height="155.00" fill="#fff"/>
<g clip-path="url(#cw10)">
<path d="M198.2,248.9L198.4,248.5L198.6,248.0L198.8,247.4L199.0,246.6L199.3,245.9L199.6,245.1L199.9,244.3L200.3,243.3L200.7,242.3L201.1,241.4L201.4,240.6L201.6,240.0L199.0,239.0L198.8,239.5L198.5,240.3L198.1,241.3L197.7,242.3L197.3,243.3L197.0,244.2L196.7,244.9L196.4,245.7L196.1,246.4L195.9,247.1L195.7,247.6L195.6,248.0Z" fill="#f40808"/>
<path d="M196.92,248.48C197.15,247.84 197.71,246.15 198.27,244.65C198.84,243.15 199.97,240.33 200.30,239.47" fill="none" stroke="#4a0404" stroke-width="0.85"/>
<path d="M162.9,378.6L163.6,378.9L164.7,379.3L165.8,379.8L167.1,380.3L168.4,380.8L169.6,381.3L170.7,381.7L171.7,382.1L172.6,382.5L173.7,383.0L174.8,383.5L176.2,384.1L177.8,384.9L179.6,385.8L181.6,386.8L183.6,387.8L185.5,388.8L187.3,389.7L188.9,390.6L190.5,391.4L192.0,392.2L193.5,393.0L194.8,393.8L196.1,394.6L197.4,395.3L198.6,396.1L199.7,396.8L200.8,397.5L201.7,398.1L202.3,398.5L204.3,395.5L203.6,395.1L202.8,394.5L201.7,393.8L200.5,393.0L199.3,392.2L198.0,391.5L196.6,390.7L195.2,389.9L193.8,389.1L192.2,388.2L190.6,387.4L189.0,386.5L187.2,385.6L185.2,384.6L183.2,383.6L181.2,382.6L179.4,381.7L177.7,380.9L176.3,380.2L175.1,379.7L174.0,379.2L173.0,378.8L172.0,378.4L171.0,378.0L169.8,377.5L168.5,376.9L167.2,376.4L166.0,375.9L165.0,375.6L164.2,375.3Z" fill="#f40808"/>
<path d="M163.58,376.94C164.70,377.38 168.04,378.68 170.27,379.61C172.51,380.54 173.99,381.10 176.97,382.52C179.94,383.93 184.78,386.35 188.12,388.09C191.47,389.84 194.52,391.51 197.05,393.00C199.58,394.49 202.26,396.35 203.30,397.02" fill="none" stroke="#4a0404" stroke-width="0.85"/>
<path d="M179.9,398.3L180.9,397.4L182.3,396.1L184.0,394.7L185.8,393.2L187.5,391.8L189.1,390.6L190.5,389.7L192.0,388.8L193.5,388.1L194.9,387.4L196.3,386.8L197.6,386.3L198.8,386.0L199.8,385.7L200.8,385.5L201.7,385.4L202.7,385.3L203.7,385.3L204.8,385.3L205.8,385.4L206.8,385.5L207.8,385.7L208.8,386.0L209.8,386.3L210.8,386.8L211.7,387.3L212.7,388.0L213.8,388.7L214.9,389.6L216.0,390.5L217.3,391.7L218.8,393.1L220.4,394.6L221.8,396.1L223.1,397.3L224.0,398.2L226.4,395.8L225.5,394.9L224.2,393.7L222.8,392.2L221.2,390.6L219.6,389.2L218.2,387.9L217.0,386.9L215.8,386.0L214.7,385.2L213.5,384.4L212.3,383.7L211.1,383.2L209.8,382.7L208.6,382.4L207.3,382.2L206.1,382.0L204.9,382.0L203.7,381.9L202.6,382.0L201.4,382.0L200.3,382.2L199.1,382.4L197.8,382.7L196.5,383.1L195.1,383.7L193.6,384.3L192.0,385.0L190.4,385.9L188.8,386.8L187.2,387.8L185.4,389.1L183.6,390.5L181.8,392.1L180.1,393.6L178.7,394.9L177.6,395.7Z" fill="#f40808"/>
<path d="M178.75,397.02C180.32,395.72 185.08,391.25 188.12,389.21C191.17,387.16 194.45,385.68 197.05,384.75C199.65,383.82 201.51,383.63 203.74,383.63C205.97,383.63 208.21,383.82 210.44,384.75C212.67,385.68 214.68,387.16 217.13,389.21C219.59,391.25 223.82,395.72 225.16,397.02" fill="none" stroke="#4a0404" stroke-width="0.85"/>
<path d="M163.3,337.1L164.3,337.3L165.7,337.4L167.2,337.6L168.9,337.8L170.4,338.1L171.8,338.5L173.1,339.1L174.5,339.9L176.0,340.8L177.4,341.8L178.9,342.8L180.4,343.8L181.9,344.8L183.4,345.9L185.0,347.0L186.5,348.0L188.1,349.1L189.7,350.0L191.3,350.8L192.8,351.6L194.3,352.3L195.8,352.9L197.4,353.5L199.1,354.1L200.8,354.7L202.7,355.3L204.6,355.9L206.5,356.4L208.4,356.9L210.3,357.4L212.2,357.8L214.1,358.1L215.9,358.5L217.8,358.7L219.7,359.0L221.5,359.2L223.4,359.3L225.1,359.4L226.8,359.5L228.7,359.5L230.6,359.5L232.7,359.6L235.3,359.7L238.3,359.8L241.5,359.8L244.5,359.9L247.0,360.0L248.8,360.0L248.8,359.0L247.0,359.0L244.5,358.9L241.5,358.8L238.4,358.7L235.3,358.7L232.8,358.6L230.6,358.5L228.7,358.5L226.9,358.4L225.2,358.4L223.4,358.3L221.6,358.1L219.8,357.9L217.9,357.7L216.1,357.4L214.3,357.1L212.4,356.7L210.6,356.3L208.7,355.9L206.8,355.4L204.9,354.8L203.0,354.2L201.2,353.6L199.5,352.9L197.9,352.2L196.5,351.5L195.1,350.7L193.7,349.9L192.3,349.0L191.0,348.1L189.6,347.0L188.2,345.8L186.8,344.6L185.4,343.3L184.0,342.0L182.5,340.9L181.0,339.8L179.5,338.8L178.0,337.7L176.4,336.7L174.8,335.8L173.2,335.0L171.4,334.4L169.5,334.0L167.7,333.7L166.1,333.5L164.8,333.4L163.8,333.3Z" fill="#f40808"/>
<path d="M163.58,335.21C165.07,335.47 169.53,335.58 172.51,336.77C175.48,337.96 178.46,340.31 181.43,342.35C184.41,344.40 187.38,347.19 190.36,349.05C193.33,350.91 195.93,352.21 199.28,353.51C202.63,354.81 206.72,356.00 210.44,356.86C214.16,357.71 217.87,358.27 221.59,358.64C225.31,359.01 228.21,358.94 232.75,359.09C237.29,359.24 246.14,359.46 248.81,359.53" fill="none" stroke="#4a0404" stroke-width="0.85"/>
<path d="M163.7,365.6L164.4,365.5L165.4,365.3L166.6,365.1L167.9,364.8L169.2,364.5L170.5,364.0L171.6,363.4L172.8,362.8L173.9,362.1L175.0,361.2L176.2,360.4L177.3,359.5L178.4,358.5L179.5,357.4L180.5,356.3L181.6,355.1L182.8,354.0L184.0,352.8L185.4,351.5L186.8,350.1L188.3,348.7L189.9,347.4L191.4,346.1L192.9,345.0L194.4,344.0L195.8,343.0L197.3,342.2L198.8,341.4L200.2,340.7L201.7,340.1L203.1,339.7L204.6,339.3L206.1,339.1L207.5,338.9L209.0,338.7L210.5,338.6L211.9,338.6L213.4,338.5L214.9,338.6L216.3,338.7L217.8,338.9L219.3,339.1L220.8,339.3L222.2,339.6L223.7,340.0L225.2,340.4L226.7,340.9L228.2,341.3L229.6,341.7L231.0,342.1L232.4,342.5L233.9,343.0L235.4,343.4L237.1,343.9L239.0,344.6L241.2,345.3L243.4,346.0L245.6,346.7L247.4,347.3L248.7,347.7L249.0,346.8L247.7,346.4L245.9,345.8L243.7,345.1L241.5,344.3L239.3,343.6L237.4,343.0L235.7,342.5L234.2,342.0L232.7,341.6L231.3,341.1L229.9,340.7L228.4,340.3L226.9,339.9L225.4,339.5L224.0,339.1L222.5,338.7L220.9,338.3L219.4,338.1L217.9,337.9L216.4,337.7L214.9,337.6L213.4,337.5L211.9,337.6L210.4,337.6L208.9,337.7L207.4,337.9L205.9,338.1L204.4,338.3L202.9,338.7L201.3,339.2L199.8,339.8L198.3,340.5L196.8,341.3L195.3,342.2L193.8,343.1L192.3,344.2L190.8,345.3L189.2,346.6L187.7,348.0L186.1,349.4L184.7,350.8L183.3,352.0L182.1,353.2L180.9,354.4L179.8,355.6L178.8,356.7L177.7,357.7L176.6,358.7L175.5,359.6L174.4,360.4L173.3,361.2L172.2,361.9L171.2,362.6L170.1,363.1L168.9,363.5L167.7,363.9L166.4,364.1L165.2,364.3L164.2,364.5L163.5,364.6Z" fill="#f40808"/>
<path d="M163.58,365.11C164.70,364.85 168.04,364.55 170.27,363.55C172.51,362.55 174.74,360.95 176.97,359.09C179.20,357.23 181.06,354.81 183.66,352.39C186.27,349.98 189.61,346.70 192.59,344.58C195.56,342.46 198.54,340.75 201.51,339.68C204.49,338.60 207.46,338.30 210.44,338.11C213.41,337.93 216.39,338.11 219.36,338.56C222.34,339.01 225.31,339.97 228.29,340.79C231.26,341.61 233.79,342.39 237.21,343.47C240.63,344.55 246.88,346.63 248.81,347.26" fill="none" stroke="#4a0404" stroke-width="0.85"/>
<path d="M163.8,377.6L164.8,377.3L166.2,376.8L167.9,376.3L169.6,375.6L171.3,374.9L172.8,374.3L174.1,373.7L175.2,373.1L176.3,372.5L177.3,371.8L178.5,370.8L179.7,369.7L181.1,368.2L182.5,366.5L184.0,364.7L185.5,362.7L187.1,360.6L188.7,358.4L190.5,356.2L192.3,353.9L194.2,351.4L196.1,348.9L198.0,346.4L199.9,344.0L201.8,341.5L203.7,339.0L205.6,336.6L207.5,334.1L209.3,331.7L211.1,329.4L212.7,327.2L214.4,325.0L215.9,322.8L217.4,320.8L218.8,318.9L220.0,317.2L221.0,315.8L221.8,314.7L222.4,313.8L223.1,312.9L223.9,311.9L224.9,310.5L226.3,308.7L227.8,306.6L229.5,304.3L231.2,302.0L232.8,299.9L234.3,298.2L235.6,296.7L236.8,295.3L237.9,294.2L239.0,293.2L240.0,292.3L240.9,291.5L241.7,291.0L242.5,290.6L243.1,290.4L243.8,290.2L244.5,290.1L245.2,289.9L245.8,289.7L246.5,289.6L247.2,289.4L247.8,289.4L248.3,289.3L248.7,289.2L248.4,287.5L248.0,287.6L247.5,287.7L246.9,287.8L246.2,287.9L245.4,288.0L244.7,288.2L244.1,288.4L243.4,288.6L242.6,288.8L241.8,289.1L240.9,289.5L239.9,290.2L238.9,291.0L237.9,291.9L236.8,293.0L235.6,294.2L234.3,295.6L233.0,297.1L231.5,298.9L229.9,301.0L228.2,303.3L226.5,305.6L224.9,307.7L223.6,309.5L222.6,310.9L221.8,312.0L221.1,312.9L220.5,313.8L219.7,314.8L218.7,316.2L217.5,317.9L216.1,319.8L214.6,321.9L213.1,324.0L211.5,326.2L209.8,328.5L208.1,330.8L206.2,333.1L204.4,335.6L202.5,338.1L200.5,340.5L198.7,343.0L196.8,345.4L194.9,347.9L192.9,350.5L191.1,352.9L189.2,355.3L187.5,357.5L185.9,359.6L184.3,361.7L182.8,363.7L181.3,365.5L180.0,367.2L178.7,368.6L177.5,369.7L176.4,370.5L175.5,371.2L174.5,371.8L173.4,372.3L172.2,372.9L170.8,373.6L169.1,374.2L167.4,374.8L165.7,375.4L164.3,375.9L163.3,376.2Z" fill="#f40808"/>
<path d="M163.58,376.94C165.07,376.38 169.90,374.89 172.51,373.59C175.11,372.29 176.60,371.73 179.20,369.13C181.80,366.52 184.78,362.25 188.12,357.97C191.47,353.70 195.56,348.30 199.28,343.47C203.00,338.63 207.09,333.43 210.44,328.97C213.78,324.50 217.06,319.85 219.36,316.69C221.67,313.53 221.89,313.18 224.27,310.00C226.65,306.82 230.97,300.81 233.66,297.62C236.36,294.43 238.55,292.29 240.43,290.86C242.30,289.43 243.58,289.47 244.93,289.06C246.29,288.64 247.94,288.49 248.54,288.38" fill="none" stroke="#4a0404" stroke-width="0.85"/>
<path d="M163.3,295.2L164.0,295.2L164.9,295.2L166.0,295.2L167.2,295.2L168.4,295.1L169.5,295.0L170.5,294.7L171.5,294.5L172.4,294.2L173.4,293.8L174.3,293.4L175.3,292.9L176.3,292.3L177.2,291.6L178.2,290.9L179.1,290.2L180.1,289.4L181.0,288.5L182.0,287.7L182.9,286.8L183.9,285.8L184.9,284.8L185.8,283.8L186.7,282.6L187.6,281.3L188.5,279.8L189.4,278.3L190.2,276.8L191.0,275.4L191.7,274.2L192.3,273.3L192.9,272.5L193.4,271.8L193.8,271.2L194.2,270.7L194.6,270.2L195.0,269.8L195.3,269.5L195.5,269.3L195.7,269.2L195.9,269.2L196.0,269.2L196.2,269.3L196.3,269.3L196.5,269.4L196.7,269.7L197.0,270.0L197.3,270.5L197.8,271.2L198.2,272.0L198.7,272.9L199.4,273.9L200.2,274.9L201.0,276.0L202.0,277.1L203.1,278.5L204.3,279.9L205.5,281.3L206.7,282.7L207.9,284.0L209.1,285.0L210.3,286.0L211.4,287.0L212.6,287.8L213.8,288.6L214.9,289.3L216.1,290.0L217.3,290.6L218.5,291.1L219.7,291.5L220.9,291.9L222.1,292.2L223.2,292.5L224.4,292.7L225.6,292.9L226.8,293.0L228.0,293.1L229.1,293.1L230.3,293.1L231.5,292.9L232.7,292.8L233.8,292.5L234.9,292.3L236.1,292.0L237.3,291.8L238.4,291.4L239.6,291.0L240.7,290.6L241.8,290.3L242.9,290.0L243.9,289.8L245.1,289.5L246.2,289.3L247.2,289.2L248.0,289.0L248.7,288.9L248.4,287.4L247.8,287.5L246.9,287.7L245.9,287.9L244.8,288.1L243.6,288.3L242.5,288.6L241.4,288.9L240.3,289.2L239.1,289.6L238.0,290.0L236.9,290.3L235.7,290.6L234.6,290.8L233.5,291.0L232.4,291.2L231.3,291.3L230.2,291.3L229.2,291.3L228.1,291.2L227.0,291.1L225.9,290.9L224.9,290.6L223.8,290.3L222.7,289.9L221.7,289.5L220.6,289.1L219.5,288.6L218.5,288.1L217.4,287.6L216.3,287.0L215.2,286.3L214.2,285.6L213.1,284.8L212.0,283.9L210.9,283.0L209.8,282.0L208.7,280.8L207.6,279.5L206.4,278.1L205.2,276.7L204.2,275.4L203.2,274.2L202.3,273.2L201.6,272.2L200.8,271.3L200.1,270.5L199.4,269.8L198.8,269.3L198.2,268.8L197.7,268.5L197.3,268.2L196.9,268.0L196.5,267.9L196.0,267.9L195.6,268.0L195.1,268.2L194.8,268.4L194.5,268.8L194.2,269.1L193.8,269.6L193.4,270.0L193.0,270.6L192.5,271.2L192.0,271.9L191.5,272.7L190.9,273.7L190.2,274.9L189.4,276.3L188.5,277.8L187.7,279.3L186.8,280.7L185.9,282.0L185.0,283.1L184.1,284.2L183.2,285.1L182.3,286.0L181.3,286.9L180.4,287.8L179.4,288.6L178.5,289.4L177.6,290.1L176.6,290.8L175.7,291.5L174.8,292.0L173.9,292.5L173.0,292.9L172.1,293.2L171.2,293.5L170.3,293.8L169.3,294.0L168.3,294.1L167.2,294.2L166.0,294.2L164.9,294.2L164.0,294.2L163.3,294.2Z" fill="#f40808"/>
<path d="M163.34,294.69C164.35,294.66 167.47,294.84 169.42,294.47C171.38,294.09 173.18,293.49 175.06,292.44C176.94,291.39 178.81,289.85 180.69,288.16C182.57,286.47 184.56,284.66 186.33,282.30C188.09,279.93 189.97,276.02 191.29,273.95C192.60,271.89 193.43,270.80 194.22,269.90C195.01,269.00 195.38,268.55 196.02,268.55C196.66,268.55 197.03,268.81 198.05,269.90C199.06,270.99 200.30,272.90 202.11,275.08C203.91,277.26 206.61,280.79 208.87,282.97C211.12,285.15 213.38,286.80 215.63,288.16C217.89,289.51 220.14,290.41 222.39,291.09C224.65,291.76 226.90,292.18 229.16,292.21C231.41,292.25 233.66,291.80 235.92,291.31C238.17,290.82 240.58,289.81 242.68,289.28C244.78,288.76 247.56,288.34 248.54,288.16" fill="none" stroke="#4a0404" stroke-width="0.85"/>
<path d="M163.4,287.1L164.5,287.0L165.9,287.0L167.7,286.9L169.5,286.8L171.4,286.7L173.0,286.6L174.4,286.4L175.8,286.3L177.2,286.1L178.6,285.9L179.9,285.7L181.3,285.3L182.6,284.9L183.8,284.5L185.0,283.9L186.2,283.2L187.4,282.4L188.6,281.5L189.7,280.4L190.8,279.3L191.9,278.0L193.1,276.7L194.3,275.3L195.5,273.8L196.8,272.1L198.1,270.2L199.5,268.2L200.8,266.1L202.1,264.2L203.4,262.5L204.6,260.8L205.7,259.2L206.9,257.7L208.0,256.3L209.0,255.1L209.9,254.0L210.8,253.3L211.5,252.7L212.2,252.3L212.9,251.9L213.5,251.6L214.1,251.3L214.6,251.1L215.0,251.0L215.2,251.0L215.4,250.9L215.7,250.9L216.1,251.0L216.6,250.9L216.9,250.9L217.2,250.9L217.4,250.9L217.7,250.9L218.1,251.1L218.7,251.5L219.4,252.0L220.1,252.6L220.9,253.2L221.7,254.1L222.5,255.1L223.4,256.3L224.3,257.6L225.2,259.1L226.2,260.7L227.2,262.4L228.3,264.3L229.4,266.3L230.5,268.6L231.7,271.0L232.9,273.4L234.1,275.7L235.2,277.7L236.3,279.5L237.3,281.3L238.4,282.9L239.3,284.3L240.2,285.6L241.1,286.7L241.8,287.6L242.4,288.3L243.0,288.8L243.6,289.2L244.1,289.5L244.7,289.8L245.3,290.1L246.1,290.4L246.8,290.6L247.5,290.7L248.0,290.8L248.4,290.9L248.7,289.9L248.3,289.8L247.7,289.7L247.1,289.5L246.4,289.3L245.8,289.1L245.2,288.8L244.7,288.5L244.2,288.2L243.7,287.8L243.3,287.4L242.7,286.8L242.1,286.0L241.3,284.9L240.4,283.6L239.5,282.1L238.6,280.5L237.6,278.8L236.6,277.0L235.6,274.9L234.5,272.6L233.3,270.2L232.2,267.8L231.1,265.5L230.0,263.3L229.1,261.4L228.1,259.6L227.2,257.9L226.3,256.4L225.4,254.9L224.5,253.6L223.7,252.4L222.9,251.4L222.1,250.5L221.3,249.8L220.6,249.1L219.9,248.5L219.2,248.0L218.4,247.7L217.7,247.5L217.0,247.4L216.5,247.4L216.1,247.4L215.6,247.4L215.0,247.5L214.5,247.6L213.9,247.7L213.2,248.0L212.6,248.3L212.0,248.7L211.3,249.1L210.5,249.6L209.7,250.2L208.8,251.0L207.8,251.9L206.7,253.1L205.6,254.4L204.5,255.8L203.3,257.4L202.1,259.0L200.9,260.7L199.6,262.4L198.2,264.4L196.9,266.4L195.5,268.4L194.2,270.2L193.0,271.9L191.8,273.3L190.7,274.6L189.6,275.9L188.5,276.9L187.4,277.8L186.4,278.6L185.3,279.2L184.3,279.7L183.3,280.1L182.3,280.4L181.2,280.7L180.1,281.1L179.0,281.3L177.8,281.6L176.6,281.7L175.4,281.8L174.0,282.0L172.6,282.1L171.1,282.2L169.3,282.3L167.5,282.3L165.8,282.4L164.3,282.4L163.2,282.5Z" fill="#f40808"/>
<path d="M163.34,284.77C164.91,284.70 169.91,284.59 172.80,284.32C175.70,284.06 178.25,283.91 180.69,283.20C183.13,282.48 185.20,281.77 187.45,280.04C189.71,278.31 191.78,275.91 194.22,272.83C196.66,269.75 199.66,264.86 202.11,261.56C204.55,258.25 206.99,254.95 208.87,252.99C210.75,251.04 212.17,250.47 213.38,249.84C214.58,249.20 215.14,249.16 216.08,249.16C217.02,249.16 217.77,248.97 219.01,249.84C220.25,250.70 221.83,252.02 223.52,254.34C225.21,256.67 227.09,259.98 229.16,263.81C231.22,267.64 233.85,273.58 235.92,277.34C237.98,281.09 240.05,284.36 241.55,286.35C243.06,288.34 243.77,288.61 244.93,289.28C246.10,289.96 247.94,290.22 248.54,290.41" fill="none" stroke="#4a0404" stroke-width="0.85"/>
</g>
<line x1="69.30" y1="302.40" x2="164.30" y2="302.40" stroke="#b9b0b9" stroke-width="0.9"/>
<line x1="164.30" y1="302.40" x2="249.10" y2="302.40" stroke="#808080" stroke-width="0.8"/>
<path d="M69.30,240.00 H249.10 V395.00 H69.30" fill="none" stroke="#6a6a6a" stroke-width="0.9"/>
<line x1="64.10" y1="240.00" x2="69.30" y2="240.00" stroke="#707070" stroke-width="0.9"/>
<text x="57.90" y="243.20" class="dj" font-size="8.80" fill="#000" text-anchor="end" >1</text>
<line x1="64.10" y1="271.00" x2="69.30" y2="271.00" stroke="#707070" stroke-width="0.9"/>
<text x="57.90" y="274.20" class="dj" font-size="8.80" fill="#000" text-anchor="end" >0.5</text>
<line x1="64.10" y1="302.00" x2="69.30" y2="302.00" stroke="#707070" stroke-width="0.9"/>
<text x="57.90" y="305.20" class="dj" font-size="8.80" fill="#000" text-anchor="end" >0</text>
<line x1="64.10" y1="333.00" x2="69.30" y2="333.00" stroke="#707070" stroke-width="0.9"/>
<text x="57.90" y="336.20" class="dj" font-size="8.80" fill="#000" text-anchor="end" >-0.5</text>
<line x1="64.10" y1="364.00" x2="69.30" y2="364.00" stroke="#707070" stroke-width="0.9"/>
<text x="57.90" y="367.20" class="dj" font-size="8.80" fill="#000" text-anchor="end" >-1</text>
<line x1="64.10" y1="395.00" x2="69.30" y2="395.00" stroke="#707070" stroke-width="0.9"/>
<text x="57.90" y="398.20" class="dj" font-size="8.80" fill="#000" text-anchor="end" >-1.5</text>
<rect x="71.60" y="241.50" width="22.80" height="18.40" fill="#fff" fill-opacity="0.5"/>
<text x="83.40" y="255.00" class="dj" font-size="11.40" fill="#000" text-anchor="middle" >(d)</text>
<rect x="130.50" y="236.30" width="25.90" height="13.00" fill="#dedede" stroke="#5c5c5c" stroke-width="0.90"/>
<text x="143.50" y="245.50" class="ar" font-size="7.50" fill="#000" text-anchor="middle" >with 4f</text>
<rect x="176.90" y="236.30" width="20.90" height="13.00" fill="#dedede" stroke="#5c5c5c" stroke-width="0.90"/>
<text x="187.40" y="245.50" class="ar" font-size="7.50" fill="#000" text-anchor="middle" >no 4f</text>
<rect x="59.50" y="379.50" width="34.50" height="13.50" fill="#dedede" stroke="#5c5c5c" stroke-width="0.90"/>
<text x="61.90" y="389.30" class="ar" font-size="8.20" fill="#000" text-anchor="start" ><tspan font-style="italic">k</tspan><tspan font-style="italic" font-size="5.2" dy="1.2">x</tspan><tspan dy="-1.2">=0 (Z)</tspan></text>
<rect x="150.00" y="379.50" width="28.90" height="13.50" fill="#dedede" stroke="#5c5c5c" stroke-width="0.90"/>
<text x="164.50" y="389.30" class="ar" font-size="8.20" fill="#000" text-anchor="middle" >0.5 (R)</text>
<rect x="230.50" y="379.50" width="21.80" height="13.50" fill="#dedede" stroke="#5c5c5c" stroke-width="0.90"/>
<text x="241.40" y="389.30" class="ar" font-size="8.20" fill="#000" text-anchor="middle" >0 (Z)</text>
<text x="77.60" y="371.20" class="sb" font-size="13.20" fill="#4fb4ee" text-anchor="start" >x3</text>
<rect x="365.10" y="210.30" width="32.80" height="17.70" fill="#fff" stroke="#a8a8a8" stroke-width="0.80"/>
<text x="381.70" y="223.00" class="dj" font-size="8.90" fill="#000" text-anchor="middle" >Co 3d</text>
<rect x="285.10" y="240.00" width="95.00" height="155.00" fill="#30123b"/>
<g transform="translate(285.10,240.00)" filter="url(#turbo)" fill="none" stroke-width="2">
<rect x="-2" y="-2" width="99" height="159" fill="#000"/>
<use href="#k2_M1" stroke="url(#g57)" stroke-width="2.0"/>
<use href="#k2_M4" stroke="url(#g58)" stroke-width="2.0"/>
<use href="#k2_M3" stroke="url(#g59)" stroke-width="2.0"/>
<use href="#k2_M5" stroke="url(#g60)" stroke-width="2.2"/>
<use href="#k2_F1" stroke="url(#g61)" stroke-width="2.6"/>
<use href="#k2_N1" stroke="url(#g62)" stroke-width="1.4"/>
<use href="#k2_N3" stroke="url(#g63)" stroke-width="3.6"/>
<use href="#k2_O1" stroke="url(#g64)" stroke-width="3.6"/>
<use href="#k2_O3" stroke="url(#g65)" stroke-width="3.0"/>
<use href="#k2_O5a" stroke="url(#g66)" stroke-width="1.6"/>
<use href="#k2_O5b" stroke="url(#g67)" stroke-width="2.6"/>
<use href="#k2_O5c" stroke="url(#g68)" stroke-width="3.0"/>
<use href="#k2_O6" stroke="url(#g69)" stroke-width="3.0"/>
</g>
<rect x="380.10" y="240.00" width="84.80" height="155.00" fill="#fff"/>
<g clip-path="url(#cw11)">
<path d="M414.2,249.0L414.4,248.6L414.6,248.1L414.8,247.4L415.0,246.7L415.3,246.0L415.6,245.2L415.9,244.4L416.3,243.4L416.7,242.4L417.0,241.4L417.4,240.6L417.6,240.1L414.6,238.9L414.4,239.5L414.1,240.3L413.7,241.2L413.3,242.2L412.9,243.2L412.6,244.1L412.3,244.9L412.0,245.6L411.8,246.4L411.5,247.0L411.3,247.6L411.2,248.0Z" fill="#f40808"/>
<path d="M412.72,248.48C412.95,247.84 413.51,246.15 414.07,244.65C414.64,243.15 415.77,240.33 416.10,239.47" fill="none" stroke="#4a0404" stroke-width="0.85"/>
<path d="M378.7,391.5L379.9,391.7L381.6,392.0L383.6,392.4L385.7,392.8L387.7,393.3L389.4,393.9L391.1,394.6L393.0,395.5L394.9,396.4L396.6,397.4L398.1,398.2L399.2,398.8L401.0,395.2L400.0,394.7L398.5,393.9L396.7,392.9L394.8,391.9L392.7,390.9L390.8,390.1L388.7,389.5L386.5,388.9L384.4,388.5L382.4,388.1L380.7,387.8L379.5,387.5Z" fill="#f40808"/>
<path d="M379.10,389.50C380.93,389.92 386.60,390.75 390.10,392.00C393.60,393.25 398.43,396.17 400.10,397.00" fill="none" stroke="#4a0404" stroke-width="0.85"/>
<path d="M378.5,379.3L379.2,379.6L380.2,379.9L381.4,380.4L382.7,380.9L383.9,381.4L385.1,381.9L386.2,382.4L387.2,382.8L388.2,383.2L389.2,383.6L390.4,384.1L391.7,384.8L393.3,385.5L395.1,386.4L397.1,387.4L399.1,388.4L401.0,389.4L402.8,390.3L404.4,391.2L406.0,392.0L407.5,392.8L408.9,393.6L410.3,394.4L411.6,395.2L412.8,395.9L414.0,396.7L415.2,397.4L416.2,398.1L417.1,398.7L417.7,399.1L420.5,394.9L419.8,394.5L419.0,393.9L417.9,393.2L416.7,392.5L415.4,391.6L414.1,390.9L412.8,390.1L411.4,389.3L409.9,388.5L408.4,387.6L406.7,386.8L405.1,385.9L403.3,384.9L401.3,384.0L399.3,382.9L397.3,382.0L395.5,381.0L393.8,380.3L392.4,379.6L391.2,379.1L390.1,378.6L389.1,378.2L388.1,377.7L387.0,377.3L385.8,376.8L384.5,376.3L383.2,375.8L382.0,375.3L381.0,374.9L380.3,374.6Z" fill="#f40808"/>
<path d="M379.38,376.94C380.50,377.38 383.84,378.68 386.07,379.61C388.31,380.54 389.79,381.10 392.77,382.52C395.74,383.93 400.58,386.35 403.92,388.09C407.27,389.84 410.32,391.51 412.85,393.00C415.38,394.49 418.06,396.35 419.10,397.02" fill="none" stroke="#4a0404" stroke-width="0.85"/>
<path d="M396.2,398.9L397.2,398.0L398.7,396.7L400.3,395.3L402.1,393.8L403.8,392.4L405.3,391.3L406.8,390.4L408.2,389.5L409.7,388.8L411.1,388.1L412.4,387.6L413.7,387.1L414.8,386.7L415.8,386.5L416.7,386.3L417.6,386.2L418.5,386.1L419.5,386.1L420.6,386.1L421.6,386.2L422.5,386.3L423.5,386.5L424.4,386.7L425.3,387.1L426.2,387.5L427.1,388.0L428.1,388.6L429.1,389.4L430.2,390.2L431.3,391.1L432.6,392.2L434.1,393.6L435.6,395.2L437.1,396.6L438.3,397.9L439.2,398.8L442.7,395.2L441.8,394.4L440.6,393.1L439.1,391.6L437.5,390.1L436.0,388.6L434.6,387.3L433.3,386.3L432.1,385.3L430.9,384.5L429.7,383.7L428.5,383.0L427.2,382.4L425.9,382.0L424.6,381.6L423.3,381.4L422.0,381.2L420.8,381.2L419.5,381.1L418.4,381.2L417.2,381.2L416.0,381.4L414.7,381.6L413.4,381.9L412.0,382.4L410.6,382.9L409.0,383.6L407.5,384.3L405.8,385.2L404.2,386.1L402.5,387.1L400.8,388.4L398.9,389.9L397.0,391.5L395.3,393.0L393.9,394.3L392.9,395.1Z" fill="#f40808"/>
<path d="M394.55,397.02C396.12,395.72 400.88,391.25 403.92,389.21C406.97,387.16 410.25,385.68 412.85,384.75C415.45,383.82 417.31,383.63 419.54,383.63C421.77,383.63 424.01,383.82 426.24,384.75C428.47,385.68 430.48,387.16 432.93,389.21C435.39,391.25 439.62,395.72 440.96,397.02" fill="none" stroke="#4a0404" stroke-width="0.85"/>
<path d="M379.3,335.7L380.3,335.8L381.6,336.0L383.2,336.1L384.9,336.4L386.6,336.7L388.1,337.2L389.6,337.9L391.0,338.7L392.5,339.7L394.0,340.7L395.5,341.7L396.9,342.8L398.4,343.8L399.9,345.0L401.4,346.2L402.8,347.5L404.1,348.8L405.5,350.0L406.9,351.2L408.3,352.2L409.6,353.2L411.1,354.1L412.6,355.0L414.1,355.9L415.9,356.8L417.8,357.4L419.7,358.1L421.7,358.7L423.6,359.2L425.6,359.7L427.5,360.2L429.4,360.6L431.3,361.0L433.3,361.3L435.2,361.6L437.1,361.8L439.0,362.0L440.8,362.1L442.6,362.2L444.4,362.2L446.3,362.3L448.5,362.3L451.0,362.4L454.0,362.5L457.2,362.6L460.2,362.7L462.7,362.7L464.5,362.8L464.7,356.3L462.9,356.2L460.4,356.2L457.4,356.1L454.2,356.0L451.2,355.9L448.6,355.8L446.5,355.8L444.5,355.7L442.8,355.7L441.1,355.6L439.4,355.6L437.7,355.5L435.9,355.3L434.1,355.1L432.3,354.9L430.5,354.6L428.7,354.3L426.9,354.0L425.1,353.6L423.2,353.1L421.3,352.6L419.5,352.1L417.7,351.5L416.0,351.1L414.4,350.7L412.8,350.3L411.3,349.8L409.8,349.3L408.3,348.7L406.8,348.1L405.2,347.3L403.6,346.4L402.0,345.4L400.5,344.2L399.0,343.0L397.5,341.9L396.0,340.9L394.5,339.9L393.0,338.8L391.5,337.9L390.0,337.0L388.5,336.3L386.8,335.8L385.1,335.4L383.4,335.1L381.7,335.0L380.4,334.8L379.4,334.7Z" fill="#f40808"/>
<path d="M379.38,335.21C380.87,335.47 385.33,335.58 388.31,336.77C391.28,337.96 394.26,340.31 397.23,342.35C400.21,344.40 403.18,347.19 406.16,349.05C409.13,350.91 411.73,352.21 415.08,353.51C418.43,354.81 422.52,356.00 426.24,356.86C429.96,357.71 433.67,358.27 437.39,358.64C441.11,359.01 444.01,358.94 448.55,359.09C453.09,359.24 461.94,359.46 464.61,359.53" fill="none" stroke="#4a0404" stroke-width="0.85"/>
<path d="M379.8,367.6L380.5,367.4L381.5,367.3L382.8,367.1L384.2,366.8L385.7,366.4L387.1,365.9L388.4,365.3L389.7,364.6L390.9,363.8L392.1,363.0L393.3,362.1L394.5,361.1L395.7,360.1L396.8,358.9L397.9,357.8L399.0,356.7L400.1,355.5L401.4,354.4L402.7,353.1L404.2,351.8L405.7,350.5L407.2,349.2L408.6,348.0L410.1,346.9L411.5,346.0L412.9,345.1L414.3,344.3L415.6,343.6L417.0,343.0L418.3,342.5L419.6,342.1L420.9,341.8L422.2,341.5L423.6,341.3L425.0,341.2L426.4,341.1L427.8,341.1L429.2,341.0L430.5,341.1L431.9,341.2L433.3,341.3L434.7,341.5L436.1,341.8L437.4,342.1L438.9,342.4L440.3,342.8L441.8,343.3L443.3,343.7L444.7,344.1L446.1,344.5L447.5,344.9L449.0,345.3L450.5,345.8L452.1,346.3L454.0,346.9L456.2,347.6L458.4,348.4L460.6,349.1L462.4,349.7L463.7,350.1L465.6,344.4L464.3,344.0L462.4,343.4L460.3,342.7L458.0,341.9L455.8,341.2L453.9,340.6L452.3,340.1L450.7,339.6L449.2,339.2L447.8,338.7L446.4,338.3L444.9,337.9L443.4,337.5L441.9,337.1L440.4,336.6L438.8,336.2L437.2,335.9L435.6,335.6L434.0,335.4L432.4,335.2L430.9,335.1L429.3,335.0L427.7,335.1L426.1,335.1L424.5,335.2L422.9,335.4L421.3,335.6L419.7,335.9L418.0,336.3L416.3,336.9L414.7,337.6L413.0,338.3L411.4,339.2L409.9,340.1L408.3,341.2L406.7,342.3L405.1,343.5L403.5,344.9L401.9,346.3L400.4,347.7L398.9,349.1L397.6,350.4L396.3,351.7L395.1,352.9L394.0,354.1L393.0,355.2L392.0,356.2L391.0,357.1L390.0,357.9L389.0,358.7L388.0,359.5L387.0,360.1L386.0,360.7L385.1,361.2L384.1,361.6L383.0,361.9L381.8,362.1L380.7,362.3L379.7,362.5L378.9,362.7Z" fill="#f40808"/>
<path d="M379.38,365.11C380.50,364.85 383.84,364.55 386.07,363.55C388.31,362.55 390.54,360.95 392.77,359.09C395.00,357.23 396.86,354.81 399.46,352.39C402.07,349.98 405.41,346.70 408.39,344.58C411.36,342.46 414.34,340.75 417.31,339.68C420.29,338.60 423.26,338.30 426.24,338.11C429.21,337.93 432.19,338.11 435.16,338.56C438.14,339.01 441.11,339.97 444.09,340.79C447.06,341.61 449.59,342.39 453.01,343.47C456.43,344.55 462.68,346.63 464.61,347.26" fill="none" stroke="#4a0404" stroke-width="0.85"/>
<path d="M379.6,377.5L380.6,377.2L382.0,376.7L383.6,376.1L385.4,375.5L387.1,374.8L388.6,374.2L389.8,373.5L390.9,373.0L392.0,372.4L393.1,371.7L394.2,370.8L395.5,369.6L396.8,368.1L398.2,366.4L399.7,364.6L401.2,362.6L402.8,360.5L404.5,358.4L406.2,356.2L408.0,353.8L409.9,351.3L411.8,348.8L413.7,346.3L415.6,343.9L417.6,341.5L419.5,339.1L421.5,336.6L423.4,334.2L425.3,331.9L427.1,329.6L428.8,327.4L430.5,325.2L432.1,323.1L433.6,321.0L435.0,319.1L436.2,317.5L437.2,316.1L438.0,315.0L438.7,314.1L439.3,313.3L440.1,312.2L441.2,310.8L442.6,309.0L444.1,307.0L445.8,304.7L447.5,302.4L449.2,300.3L450.6,298.6L451.8,297.1L453.0,295.7L454.2,294.6L455.2,293.6L456.2,292.7L457.1,292.0L457.8,291.4L458.5,291.1L459.1,290.9L459.7,290.7L460.4,290.5L461.1,290.4L461.7,290.2L462.4,290.0L463.0,289.9L463.6,289.8L464.2,289.7L464.5,289.7L464.1,287.1L463.8,287.1L463.3,287.2L462.6,287.3L461.9,287.4L461.1,287.6L460.4,287.8L459.7,287.9L459.1,288.1L458.3,288.3L457.4,288.6L456.4,289.1L455.4,289.7L454.4,290.6L453.3,291.5L452.1,292.6L451.0,293.8L449.7,295.2L448.3,296.7L446.8,298.5L445.2,300.6L443.5,302.9L441.8,305.2L440.3,307.4L438.9,309.2L437.9,310.6L437.2,311.6L436.5,312.6L435.8,313.5L435.1,314.5L434.1,315.9L432.9,317.6L431.6,319.6L430.1,321.6L428.6,323.8L427.0,326.1L425.4,328.3L423.7,330.6L421.9,333.1L420.1,335.5L418.2,338.0L416.4,340.6L414.5,343.0L412.6,345.5L410.7,348.0L408.8,350.5L406.9,353.0L405.1,355.3L403.4,357.6L401.8,359.7L400.2,361.8L398.7,363.8L397.2,365.6L395.8,367.3L394.5,368.7L393.4,369.8L392.3,370.6L391.3,371.3L390.3,371.9L389.2,372.4L388.0,373.0L386.6,373.7L384.9,374.3L383.2,375.0L381.6,375.5L380.2,376.0L379.2,376.4Z" fill="#f40808"/>
<path d="M379.38,376.94C380.87,376.38 385.70,374.89 388.31,373.59C390.91,372.29 392.40,371.73 395.00,369.13C397.60,366.52 400.58,362.25 403.92,357.97C407.27,353.70 411.36,348.30 415.08,343.47C418.80,338.63 422.89,333.43 426.24,328.97C429.58,324.50 432.86,319.85 435.16,316.69C437.47,313.53 437.69,313.18 440.07,310.00C442.45,306.82 446.77,300.81 449.46,297.62C452.16,294.43 454.35,292.29 456.23,290.86C458.10,289.43 459.38,289.47 460.73,289.06C462.09,288.64 463.74,288.49 464.34,288.38" fill="none" stroke="#4a0404" stroke-width="0.85"/>
<path d="M379.1,297.0L379.8,297.0L380.7,297.0L381.8,297.0L383.1,297.0L384.4,296.9L385.6,296.7L386.7,296.4L387.8,296.2L388.8,295.8L389.9,295.4L390.9,294.9L391.9,294.4L393.0,293.7L394.0,293.0L395.0,292.2L396.0,291.4L396.9,290.6L397.8,289.7L398.8,288.8L399.7,287.8L400.7,286.8L401.7,285.8L402.7,284.6L403.6,283.4L404.5,282.0L405.4,280.4L406.3,278.9L407.1,277.3L407.8,276.0L408.5,274.8L409.1,273.9L409.6,273.1L410.0,272.4L410.4,271.8L410.7,271.3L411.1,270.8L411.4,270.4L411.6,270.1L411.8,269.9L411.9,269.8L411.8,269.8L411.8,269.8L411.9,269.7L412.0,269.7L412.1,269.7L412.3,269.8L412.7,270.1L413.2,270.5L413.8,271.0L414.4,271.7L415.1,272.4L415.9,273.3L416.7,274.3L417.5,275.4L418.5,276.6L419.6,277.9L420.7,279.3L421.9,280.8L423.1,282.1L424.3,283.3L425.5,284.4L426.6,285.4L427.7,286.3L428.8,287.2L430.0,288.0L431.1,288.7L432.2,289.4L433.4,290.0L434.5,290.6L435.7,291.0L436.8,291.5L438.0,291.9L439.1,292.2L440.3,292.5L441.4,292.7L442.6,292.9L443.8,293.1L444.9,293.1L446.1,293.1L447.3,293.1L448.5,292.9L449.6,292.7L450.8,292.5L452.0,292.3L453.1,292.1L454.3,291.8L455.5,291.4L456.7,291.1L457.8,290.8L458.8,290.5L459.9,290.3L461.0,290.1L462.1,290.0L463.1,289.8L464.0,289.7L464.6,289.6L464.1,286.7L463.5,286.8L462.6,287.0L461.6,287.2L460.5,287.5L459.3,287.7L458.2,288.0L457.1,288.4L455.9,288.8L454.8,289.2L453.7,289.6L452.6,290.0L451.5,290.3L450.4,290.6L449.3,290.8L448.2,291.0L447.1,291.2L446.0,291.3L445.0,291.3L443.9,291.3L442.8,291.2L441.7,291.0L440.6,290.9L439.5,290.6L438.4,290.3L437.3,290.0L436.2,289.6L435.1,289.2L434.0,288.7L432.9,288.2L431.8,287.6L430.6,286.9L429.5,286.2L428.4,285.4L427.3,284.6L426.1,283.6L425.0,282.6L423.9,281.4L422.7,280.1L421.5,278.7L420.3,277.3L419.3,276.0L418.3,274.8L417.4,273.7L416.7,272.7L416.1,271.7L415.5,270.8L415.0,270.0L414.5,269.3L414.1,268.7L413.7,268.3L413.3,267.9L412.9,267.6L412.3,267.4L411.8,267.3L411.2,267.4L410.6,267.6L410.1,267.9L409.7,268.2L409.4,268.6L409.0,269.0L408.5,269.4L408.0,270.0L407.5,270.6L407.0,271.3L406.4,272.1L405.7,273.1L404.9,274.3L404.1,275.7L403.3,277.2L402.4,278.6L401.5,280.0L400.7,281.2L399.8,282.2L398.9,283.2L398.0,284.1L397.0,285.0L396.1,285.8L395.1,286.6L394.2,287.4L393.3,288.2L392.4,288.8L391.5,289.5L390.6,290.0L389.8,290.5L388.9,290.9L388.1,291.3L387.3,291.6L386.5,291.9L385.7,292.1L384.8,292.2L383.9,292.4L382.9,292.4L381.8,292.4L380.8,292.4L379.8,292.4L379.1,292.4Z" fill="#f40808"/>
<path d="M379.14,294.69C380.15,294.66 383.27,294.84 385.22,294.47C387.18,294.09 388.98,293.49 390.86,292.44C392.74,291.39 394.61,289.85 396.49,288.16C398.37,286.47 400.36,284.66 402.13,282.30C403.89,279.93 405.77,276.02 407.09,273.95C408.40,271.89 409.23,270.80 410.02,269.90C410.81,269.00 411.18,268.55 411.82,268.55C412.46,268.55 412.83,268.81 413.85,269.90C414.86,270.99 416.10,272.90 417.91,275.08C419.71,277.26 422.41,280.79 424.67,282.97C426.92,285.15 429.18,286.80 431.43,288.16C433.69,289.51 435.94,290.41 438.19,291.09C440.45,291.76 442.70,292.18 444.96,292.21C447.21,292.25 449.46,291.80 451.72,291.31C453.97,290.82 456.38,289.81 458.48,289.28C460.58,288.76 463.36,288.34 464.34,288.16" fill="none" stroke="#4a0404" stroke-width="0.85"/>
<path d="M379.2,285.4L380.2,285.4L381.7,285.3L383.4,285.3L385.2,285.2L387.0,285.1L388.7,285.0L390.1,284.8L391.5,284.7L392.8,284.6L394.1,284.4L395.4,284.1L396.7,283.8L397.9,283.5L399.1,283.1L400.2,282.6L401.3,282.0L402.5,281.3L403.6,280.5L404.8,279.6L405.9,278.5L407.0,277.3L408.1,276.0L409.2,274.6L410.4,273.1L411.7,271.4L413.0,269.6L414.4,267.6L415.7,265.5L417.1,263.6L418.3,261.9L419.5,260.2L420.7,258.6L421.9,257.1L423.0,255.7L424.1,254.4L425.0,253.3L425.9,252.5L426.7,251.9L427.5,251.5L428.2,251.1L428.9,250.9L429.6,250.6L430.1,250.4L430.5,250.3L430.9,250.3L431.2,250.3L431.5,250.4L431.9,250.4L432.4,250.5L432.7,250.5L433.0,250.6L433.2,250.7L433.5,250.9L433.9,251.2L434.4,251.6L435.0,252.2L435.7,252.8L436.3,253.6L437.0,254.5L437.7,255.5L438.5,256.7L439.4,258.0L440.3,259.5L441.2,261.2L442.2,262.9L443.2,264.7L444.2,266.8L445.4,269.1L446.5,271.5L447.7,273.9L448.9,276.2L450.0,278.3L451.0,280.1L452.1,281.9L453.2,283.5L454.2,285.0L455.1,286.3L456.0,287.4L456.8,288.3L457.5,289.0L458.1,289.6L458.8,290.0L459.4,290.3L460.0,290.7L460.8,291.0L461.6,291.2L462.4,291.4L463.1,291.6L463.6,291.6L464.0,291.7L464.7,289.1L464.3,289.0L463.7,288.8L463.1,288.6L462.5,288.4L462.0,288.2L461.5,287.9L461.0,287.6L460.6,287.3L460.2,287.0L459.8,286.6L459.3,286.1L458.7,285.3L458.0,284.2L457.2,283.0L456.3,281.5L455.4,279.9L454.5,278.2L453.5,276.4L452.4,274.4L451.3,272.1L450.1,269.7L449.0,267.3L447.8,265.0L446.7,262.9L445.7,261.0L444.7,259.2L443.7,257.5L442.8,255.9L441.8,254.5L440.9,253.2L440.0,252.1L439.0,251.1L438.1,250.3L437.3,249.6L436.5,249.0L435.7,248.5L435.0,248.1L434.2,247.8L433.4,247.7L432.8,247.7L432.3,247.8L431.9,247.9L431.4,248.0L430.9,248.1L430.4,248.2L429.9,248.4L429.3,248.7L428.8,249.0L428.2,249.4L427.5,249.9L426.8,250.4L426.1,251.0L425.2,251.8L424.3,252.6L423.3,253.7L422.2,255.0L421.1,256.5L419.9,258.0L418.7,259.6L417.5,261.3L416.2,263.0L414.9,265.0L413.5,267.0L412.2,269.0L410.9,270.9L409.6,272.5L408.4,274.0L407.3,275.3L406.2,276.6L405.1,277.7L404.0,278.7L402.9,279.6L401.8,280.3L400.7,280.9L399.7,281.4L398.6,281.8L397.5,282.2L396.3,282.6L395.1,282.9L393.9,283.1L392.6,283.3L391.3,283.4L390.0,283.6L388.6,283.7L387.0,283.8L385.2,283.9L383.4,284.0L381.6,284.0L380.2,284.1L379.1,284.1Z" fill="#f40808"/>
<path d="M379.14,284.77C380.71,284.70 385.71,284.59 388.60,284.32C391.50,284.06 394.05,283.91 396.49,283.20C398.93,282.48 401.00,281.77 403.25,280.04C405.51,278.31 407.58,275.91 410.02,272.83C412.46,269.75 415.46,264.86 417.91,261.56C420.35,258.25 422.79,254.95 424.67,252.99C426.55,251.04 427.97,250.47 429.18,249.84C430.38,249.20 430.94,249.16 431.88,249.16C432.82,249.16 433.57,248.97 434.81,249.84C436.05,250.70 437.63,252.02 439.32,254.34C441.01,256.67 442.89,259.98 444.96,263.81C447.02,267.64 449.65,273.58 451.72,277.34C453.78,281.09 455.85,284.36 457.35,286.35C458.86,288.34 459.57,288.61 460.73,289.28C461.90,289.96 463.74,290.22 464.34,290.41" fill="none" stroke="#4a0404" stroke-width="0.85"/>
</g>
<line x1="285.10" y1="302.40" x2="380.10" y2="302.40" stroke="#b9b0b9" stroke-width="0.9"/>
<line x1="380.10" y1="302.40" x2="464.90" y2="302.40" stroke="#808080" stroke-width="0.8"/>
<path d="M285.10,240.00 H464.90 V395.00 H285.10" fill="none" stroke="#6a6a6a" stroke-width="0.9"/>
<line x1="279.90" y1="240.00" x2="285.10" y2="240.00" stroke="#707070" stroke-width="0.9"/>
<text x="273.70" y="243.20" class="dj" font-size="8.80" fill="#000" text-anchor="end" >1</text>
<line x1="279.90" y1="271.00" x2="285.10" y2="271.00" stroke="#707070" stroke-width="0.9"/>
<text x="273.70" y="274.20" class="dj" font-size="8.80" fill="#000" text-anchor="end" >0.5</text>
<line x1="279.90" y1="302.00" x2="285.10" y2="302.00" stroke="#707070" stroke-width="0.9"/>
<text x="273.70" y="305.20" class="dj" font-size="8.80" fill="#000" text-anchor="end" >0</text>
<line x1="279.90" y1="333.00" x2="285.10" y2="333.00" stroke="#707070" stroke-width="0.9"/>
<text x="273.70" y="336.20" class="dj" font-size="8.80" fill="#000" text-anchor="end" >-0.5</text>
<line x1="279.90" y1="364.00" x2="285.10" y2="364.00" stroke="#707070" stroke-width="0.9"/>
<text x="273.70" y="367.20" class="dj" font-size="8.80" fill="#000" text-anchor="end" >-1</text>
<line x1="279.90" y1="395.00" x2="285.10" y2="395.00" stroke="#707070" stroke-width="0.9"/>
<text x="273.70" y="398.20" class="dj" font-size="8.80" fill="#000" text-anchor="end" >-1.5</text>
<rect x="287.40" y="241.50" width="22.80" height="18.40" fill="#fff" fill-opacity="0.5"/>
<text x="299.20" y="255.00" class="dj" font-size="11.40" fill="#000" text-anchor="middle" >(e)</text>
<rect x="345.55" y="236.30" width="25.90" height="13.00" fill="#dedede" stroke="#5c5c5c" stroke-width="0.90"/>
<text x="358.55" y="245.50" class="ar" font-size="7.50" fill="#000" text-anchor="middle" >with 4f</text>
<rect x="391.95" y="236.30" width="20.90" height="13.00" fill="#dedede" stroke="#5c5c5c" stroke-width="0.90"/>
<text x="402.45" y="245.50" class="ar" font-size="7.50" fill="#000" text-anchor="middle" >no 4f</text>
<rect x="274.60" y="379.50" width="34.50" height="13.50" fill="#dedede" stroke="#5c5c5c" stroke-width="0.90"/>
<text x="277.00" y="389.30" class="ar" font-size="8.20" fill="#000" text-anchor="start" ><tspan font-style="italic">k</tspan><tspan font-style="italic" font-size="5.2" dy="1.2">x</tspan><tspan dy="-1.2">=0 (Z)</tspan></text>
<rect x="365.10" y="379.50" width="28.90" height="13.50" fill="#dedede" stroke="#5c5c5c" stroke-width="0.90"/>
<text x="379.60" y="389.30" class="ar" font-size="8.20" fill="#000" text-anchor="middle" >0.5 (R)</text>
<rect x="445.60" y="379.50" width="21.80" height="13.50" fill="#dedede" stroke="#5c5c5c" stroke-width="0.90"/>
<text x="456.50" y="389.30" class="ar" font-size="8.20" fill="#000" text-anchor="middle" >0 (Z)</text>
<text x="292.20" y="371.20" class="sb" font-size="13.20" fill="#4fb4ee" text-anchor="start" >x1</text>
<rect x="580.40" y="210.30" width="33.20" height="17.70" fill="#fff" stroke="#a8a8a8" stroke-width="0.80"/>
<text x="597.20" y="223.00" class="dj" font-size="8.90" fill="#000" text-anchor="middle" >Sm 4f</text>
<rect x="500.80" y="240.00" width="95.00" height="155.00" fill="#30123b"/>
<g transform="translate(500.80,240.00)" filter="url(#turbo)" fill="none" stroke-width="2">
<rect x="-2" y="-2" width="99" height="159" fill="#000"/>
<use href="#k2_M1" stroke="url(#g70)" stroke-width="2.0"/>
<use href="#k2_M4" stroke="url(#g71)" stroke-width="2.0"/>
<use href="#k2_M3" stroke="url(#g72)" stroke-width="2.0"/>
<use href="#k2_M5" stroke="url(#g73)" stroke-width="2.2"/>
<use href="#k2_F1" stroke="url(#g74)" stroke-width="2.6"/>
<use href="#k2_N1" stroke="url(#g75)" stroke-width="1.4"/>
<use href="#k2_N3" stroke="url(#g76)" stroke-width="3.6"/>
<use href="#k2_O1" stroke="url(#g77)" stroke-width="3.6"/>
<use href="#k2_O3" stroke="url(#g78)" stroke-width="3.0"/>
</g>
<rect x="595.80" y="240.00" width="84.80" height="155.00" fill="#fff"/>
<g clip-path="url(#cw12)">
<path d="M628.42,248.48C628.65,247.84 629.21,246.15 629.77,244.65C630.34,243.15 631.47,240.33 631.80,239.47" fill="none" stroke="#333" stroke-width="0.80"/>
<path d="M595.08,376.94C596.20,377.38 599.54,378.68 601.77,379.61C604.01,380.54 605.49,381.10 608.47,382.52C611.44,383.93 616.28,386.35 619.62,388.09C622.97,389.84 626.02,391.51 628.55,393.00C631.08,394.49 633.76,396.35 634.80,397.02" fill="none" stroke="#333" stroke-width="0.80"/>
<path d="M610.25,397.02C611.82,395.72 616.58,391.25 619.62,389.21C622.67,387.16 625.95,385.68 628.55,384.75C631.15,383.82 633.01,383.63 635.24,383.63C637.47,383.63 639.71,383.82 641.94,384.75C644.17,385.68 646.18,387.16 648.63,389.21C651.09,391.25 655.32,395.72 656.66,397.02" fill="none" stroke="#333" stroke-width="0.80"/>
<path d="M595.08,335.21C596.57,335.47 601.03,335.58 604.01,336.77C606.98,337.96 609.96,340.31 612.93,342.35C615.91,344.40 618.88,347.19 621.86,349.05C624.83,350.91 627.43,352.21 630.78,353.51C634.13,354.81 638.22,356.00 641.94,356.86C645.66,357.71 649.37,358.27 653.09,358.64C656.81,359.01 659.71,358.94 664.25,359.09C668.79,359.24 677.64,359.46 680.31,359.53" fill="none" stroke="#333" stroke-width="0.80"/>
<path d="M595.08,365.11C596.20,364.85 599.54,364.55 601.77,363.55C604.01,362.55 606.24,360.95 608.47,359.09C610.70,357.23 612.56,354.81 615.16,352.39C617.77,349.98 621.11,346.70 624.09,344.58C627.06,342.46 630.04,340.75 633.01,339.68C635.99,338.60 638.96,338.30 641.94,338.11C644.91,337.93 647.89,338.11 650.86,338.56C653.84,339.01 656.81,339.97 659.79,340.79C662.76,341.61 665.29,342.39 668.71,343.47C672.13,344.55 678.38,346.63 680.31,347.26" fill="none" stroke="#333" stroke-width="0.80"/>
<path d="M595.08,376.94C596.57,376.38 601.40,374.89 604.01,373.59C606.61,372.29 608.10,371.73 610.70,369.13C613.30,366.52 616.28,362.25 619.62,357.97C622.97,353.70 627.06,348.30 630.78,343.47C634.50,338.63 638.59,333.43 641.94,328.97C645.28,324.50 648.56,319.85 650.86,316.69C653.17,313.53 653.39,313.18 655.77,310.00C658.15,306.82 662.47,300.81 665.16,297.62C667.86,294.43 670.05,292.29 671.93,290.86C673.80,289.43 675.08,289.47 676.43,289.06C677.79,288.64 679.44,288.49 680.04,288.38" fill="none" stroke="#333" stroke-width="0.80"/>
<path d="M594.84,294.69C595.85,294.66 598.97,294.84 600.92,294.47C602.88,294.09 604.68,293.49 606.56,292.44C608.44,291.39 610.31,289.85 612.19,288.16C614.07,286.47 616.06,284.66 617.83,282.30C619.59,279.93 621.47,276.02 622.79,273.95C624.10,271.89 624.93,270.80 625.72,269.90C626.51,269.00 626.88,268.55 627.52,268.55C628.16,268.55 628.53,268.81 629.55,269.90C630.56,270.99 631.80,272.90 633.61,275.08C635.41,277.26 638.11,280.79 640.37,282.97C642.62,285.15 644.88,286.80 647.13,288.16C649.39,289.51 651.64,290.41 653.89,291.09C656.15,291.76 658.40,292.18 660.66,292.21C662.91,292.25 665.16,291.80 667.42,291.31C669.67,290.82 672.08,289.81 674.18,289.28C676.28,288.76 679.06,288.34 680.04,288.16" fill="none" stroke="#333" stroke-width="0.80"/>
<path d="M594.84,284.77C596.41,284.70 601.41,284.59 604.30,284.32C607.20,284.06 609.75,283.91 612.19,283.20C614.63,282.48 616.70,281.77 618.95,280.04C621.21,278.31 623.28,275.91 625.72,272.83C628.16,269.75 631.16,264.86 633.61,261.56C636.05,258.25 638.49,254.95 640.37,252.99C642.25,251.04 643.67,250.47 644.88,249.84C646.08,249.20 646.64,249.16 647.58,249.16C648.52,249.16 649.27,248.97 650.51,249.84C651.75,250.70 653.33,252.02 655.02,254.34C656.71,256.67 658.59,259.98 660.66,263.81C662.72,267.64 665.35,273.58 667.42,277.34C669.48,281.09 671.55,284.36 673.05,286.35C674.56,288.34 675.27,288.61 676.43,289.28C677.60,289.96 679.44,290.22 680.04,290.41" fill="none" stroke="#333" stroke-width="0.80"/>
</g>
<line x1="500.80" y1="302.40" x2="595.80" y2="302.40" stroke="#b9b0b9" stroke-width="0.9"/>
<line x1="595.80" y1="302.40" x2="680.60" y2="302.40" stroke="#808080" stroke-width="0.8"/>
<path d="M500.80,240.00 H680.60 V395.00 H500.80" fill="none" stroke="#6a6a6a" stroke-width="0.9"/>
<line x1="495.60" y1="240.00" x2="500.80" y2="240.00" stroke="#707070" stroke-width="0.9"/>
<text x="489.40" y="243.20" class="dj" font-size="8.80" fill="#000" text-anchor="end" >1</text>
<line x1="495.60" y1="271.00" x2="500.80" y2="271.00" stroke="#707070" stroke-width="0.9"/>
<text x="489.40" y="274.20" class="dj" font-size="8.80" fill="#000" text-anchor="end" >0.5</text>
<line x1="495.60" y1="302.00" x2="500.80" y2="302.00" stroke="#707070" stroke-width="0.9"/>
<text x="489.40" y="305.20" class="dj" font-size="8.80" fill="#000" text-anchor="end" >0</text>
<line x1="495.60" y1="333.00" x2="500.80" y2="333.00" stroke="#707070" stroke-width="0.9"/>
<text x="489.40" y="336.20" class="dj" font-size="8.80" fill="#000" text-anchor="end" >-0.5</text>
<line x1="495.60" y1="364.00" x2="500.80" y2="364.00" stroke="#707070" stroke-width="0.9"/>
<text x="489.40" y="367.20" class="dj" font-size="8.80" fill="#000" text-anchor="end" >-1</text>
<line x1="495.60" y1="395.00" x2="500.80" y2="395.00" stroke="#707070" stroke-width="0.9"/>
<text x="489.40" y="398.20" class="dj" font-size="8.80" fill="#000" text-anchor="end" >-1.5</text>
<rect x="503.10" y="241.50" width="22.80" height="18.40" fill="#fff" fill-opacity="0.5"/>
<text x="514.90" y="255.00" class="dj" font-size="11.40" fill="#000" text-anchor="middle" >(f)</text>
<rect x="560.50" y="236.30" width="25.90" height="13.00" fill="#dedede" stroke="#5c5c5c" stroke-width="0.90"/>
<text x="573.50" y="245.50" class="ar" font-size="7.50" fill="#000" text-anchor="middle" >with 4f</text>
<rect x="606.90" y="236.30" width="20.90" height="13.00" fill="#dedede" stroke="#5c5c5c" stroke-width="0.90"/>
<text x="617.40" y="245.50" class="ar" font-size="7.50" fill="#000" text-anchor="middle" >no 4f</text>
<rect x="489.60" y="379.50" width="34.50" height="13.50" fill="#dedede" stroke="#5c5c5c" stroke-width="0.90"/>
<text x="492.00" y="389.30" class="ar" font-size="8.20" fill="#000" text-anchor="start" ><tspan font-style="italic">k</tspan><tspan font-style="italic" font-size="5.2" dy="1.2">x</tspan><tspan dy="-1.2">=0 (Z)</tspan></text>
<rect x="580.10" y="379.50" width="28.90" height="13.50" fill="#dedede" stroke="#5c5c5c" stroke-width="0.90"/>
<text x="594.60" y="389.30" class="ar" font-size="8.20" fill="#000" text-anchor="middle" >0.5 (R)</text>
<rect x="660.60" y="379.50" width="21.80" height="13.50" fill="#dedede" stroke="#5c5c5c" stroke-width="0.90"/>
<text x="671.50" y="389.30" class="ar" font-size="8.20" fill="#000" text-anchor="middle" >0 (Z)</text>
<text x="504.00" y="371.20" class="sb" font-size="13.20" fill="#4fb4ee" text-anchor="start" >x1.5</text>
<rect x="104.4" y="88.6" width="35.7" height="19.2" rx="5.5" ry="5.5" fill="#fff6b0" fill-opacity="0.13" stroke="#f8e640" stroke-width="2.0"/>
<text x="113.80" y="83.00" class="sb" font-size="16.50" fill="#f6e040" text-anchor="start" >&#947;z</text>
<rect x="363.2" y="291.0" width="35.5" height="18.5" rx="5.5" ry="5.5" fill="#fff6b0" fill-opacity="0.13" stroke="#f8e640" stroke-width="2.2"/>
<text x="342.90" y="305.80" class="djb" font-size="14.40" fill="#f6e040" text-anchor="start" >R</text>
</svg>
</body></html>
